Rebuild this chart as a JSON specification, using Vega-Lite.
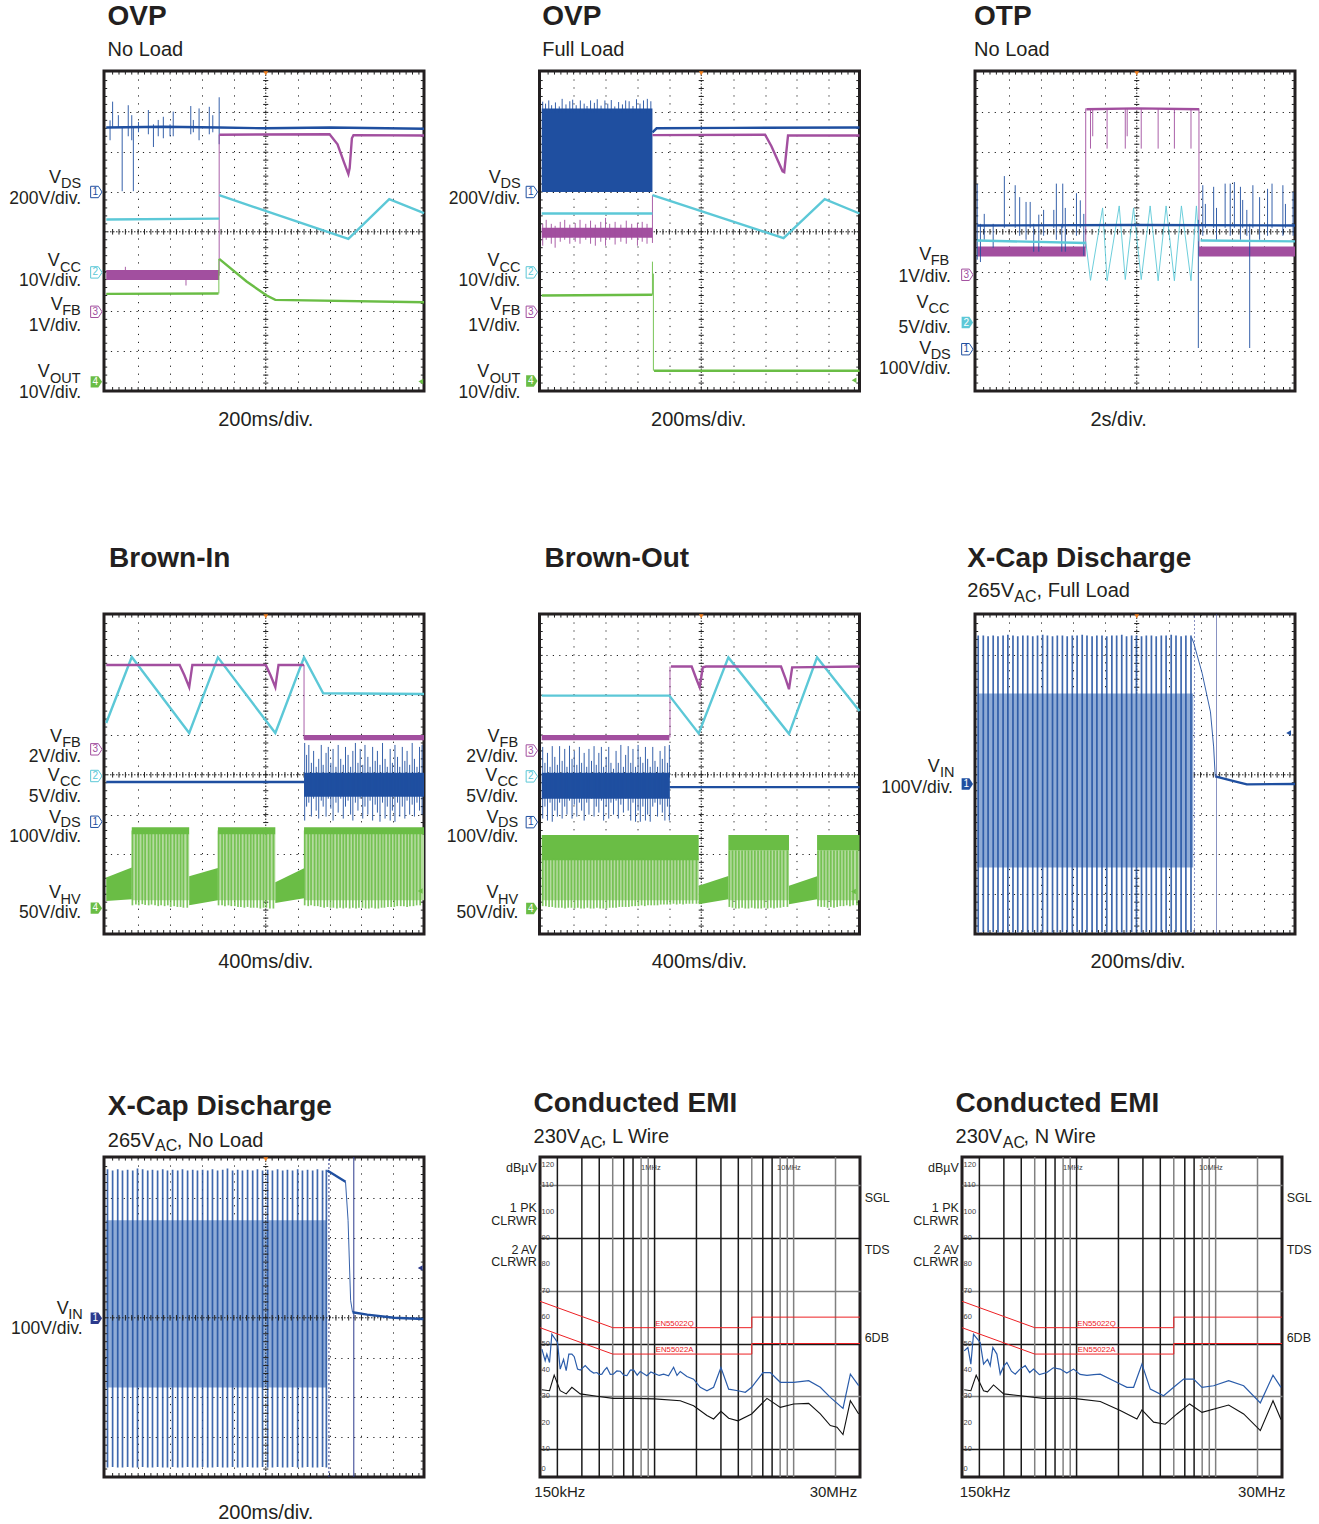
{"$schema":"https://vega.github.io/schema/vega-lite/v6.json","padding":{"left":7,"top":1,"right":0,"bottom":0},"background":"white",
"config":{"view":{"stroke":"#231f20","strokeWidth":3},"axis":{"domain":false,"ticks":false,"labels":false,"title":null,"grid":false},"header":{"labels":false,"title":null,"labelFontSize":0,"labelColor":"transparent","labelPadding":0,"titlePadding":0},"text":{"font":"Liberation Sans","color":"#231f20","baseline":"alphabetic"},"style":{"cell":{"stroke":"#231f20","strokeWidth":3}}},
"datasets":{
"tx":[{"g":0.2},{"g":0.4},{"g":0.6},{"g":0.8},{"g":1},{"g":1.2},{"g":1.4},{"g":1.6},{"g":1.8},{"g":2},{"g":2.2},{"g":2.4},{"g":2.6},{"g":2.8},{"g":3},{"g":3.2},{"g":3.4},{"g":3.6},{"g":3.8},{"g":4},{"g":4.2},{"g":4.4},{"g":4.6},{"g":4.8},{"g":5},{"g":5.2},{"g":5.4},{"g":5.6},{"g":5.8},{"g":6},{"g":6.2},{"g":6.4},{"g":6.6},{"g":6.8},{"g":7},{"g":7.2},{"g":7.4},{"g":7.6},{"g":7.8},{"g":8},{"g":8.2},{"g":8.4},{"g":8.6},{"g":8.8},{"g":9},{"g":9.2},{"g":9.4},{"g":9.6},{"g":9.8}],
"ty":[{"g":0.2},{"g":0.4},{"g":0.6},{"g":0.8},{"g":1},{"g":1.2},{"g":1.4},{"g":1.6},{"g":1.8},{"g":2},{"g":2.2},{"g":2.4},{"g":2.6},{"g":2.8},{"g":3},{"g":3.2},{"g":3.4},{"g":3.6},{"g":3.8},{"g":4},{"g":4.2},{"g":4.4},{"g":4.6},{"g":4.8},{"g":5},{"g":5.2},{"g":5.4},{"g":5.6},{"g":5.8},{"g":6},{"g":6.2},{"g":6.4},{"g":6.6},{"g":6.8},{"g":7},{"g":7.2},{"g":7.4},{"g":7.6},{"g":7.8}],
"one":[{"n":1}],
"fgrid":[{"f":0.2},{"f":0.3},{"f":0.4},{"f":0.5},{"f":0.6},{"f":0.7},{"f":0.8},{"f":0.9},{"f":1},{"f":2},{"f":3},{"f":4},{"f":5},{"f":6},{"f":7},{"f":8},{"f":9},{"f":10},{"f":20}],
"dbl":[{"lab":"120","db":117.5},{"lab":"110","db":110},{"lab":"100","db":100},{"lab":"90","db":90},{"lab":"80","db":80},{"lab":"70","db":70},{"lab":"60","db":60},{"lab":"50","db":50},{"lab":"40","db":40},{"lab":"30","db":30},{"lab":"20","db":20},{"lab":"10","db":10},{"lab":"0","db":2.5}]
},
"spacing":1086,"bounds":"flush",
"vconcat":[
{"bounds":"flush","columns":3,"spacing":{"row":223,"column":115.5},
"facet":{"field":"p","type":"nominal","header":{"labels":false,"title":null,"labelFontSize":0,"labelColor":"transparent","labelPadding":0}},
"data":{"values":[
{"p":1,"r":"title","t":0.04,"v":9.19,"txt":"OVP"},{"p":1,"r":"sub","t":0.04,"v":8.41,"txt":"No Load"},{"p":1,"r":"time","t":5,"v":-0.88,"txt":"200ms/div."},
{"p":1,"r":"V","t":-1.79,"v":5.22,"txt":"V"},{"p":1,"r":"vs","t":-1.42,"v":5.09,"txt":"DS"},{"p":1,"r":"scale","t":-0.79,"v":4.7,"txt":"200V/div."},
{"p":1,"r":"V","t":-1.83,"v":3.15,"txt":"V"},{"p":1,"r":"vs","t":-1.45,"v":3.0,"txt":"CC"},{"p":1,"r":"scale","t":-0.79,"v":2.63,"txt":"10V/div."},
{"p":1,"r":"V","t":-1.74,"v":2.04,"txt":"V"},{"p":1,"r":"vs","t":-1.38,"v":1.91,"txt":"FB"},{"p":1,"r":"scale","t":-0.79,"v":1.51,"txt":"1V/div."},
{"p":1,"r":"V","t":-2.15,"v":0.34,"txt":"V"},{"p":1,"r":"vs","t":-1.76,"v":0.21,"txt":"OUT"},{"p":1,"r":"scale","t":-0.79,"v":-0.17,"txt":"10V/div."},
{"p":1,"r":"flag","ch":1,"t":-0.31,"v":5.0,"txt":"1"},{"p":1,"r":"flag","ch":2,"t":-0.31,"v":2.98,"txt":"2"},{"p":1,"r":"flag","ch":3,"t":-0.31,"v":1.99,"txt":"3"},{"p":1,"r":"flags","ch":4,"t":-0.31,"v":0.23,"txt":"4"},{"p":1,"r":"arrow","ch":4,"t":9.86,"v":0.24},
{"p":1,"ch":3,"t":0,"t2":3.54,"v":2.79,"v2":3.04},
{"p":1,"ch":1,"t":0.2,"v":6.62,"v2":7.27},{"p":1,"ch":1,"t":0.38,"v":6.62,"v2":6.93},{"p":1,"ch":1,"t":0.5,"v":5.02,"v2":6.62},{"p":1,"ch":1,"t":0.69,"v":6.4,"v2":7.18},{"p":1,"ch":1,"t":0.8,"v":6.3,"v2":6.93},{"p":1,"ch":1,"t":0.85,"v":5.02,"v2":6.62},{"p":1,"ch":1,"t":1.01,"v":6.5,"v2":6.76},{"p":1,"ch":1,"t":1.32,"v":6.45,"v2":7.06},{"p":1,"ch":1,"t":1.48,"v":6.13,"v2":6.7},{"p":1,"ch":1,"t":1.63,"v":6.4,"v2":6.81},{"p":1,"ch":1,"t":1.79,"v":6.35,"v2":6.89},{"p":1,"ch":1,"t":2.1,"v":6.4,"v2":7.02},{"p":1,"ch":1,"t":2.65,"v":6.45,"v2":7.16},{"p":1,"ch":1,"t":2.73,"v":6.5,"v2":6.81},{"p":1,"ch":1,"t":2.91,"v":6.3,"v2":7.1},{"p":1,"ch":1,"t":3.23,"v":6.45,"v2":7.14},{"p":1,"ch":1,"t":3.34,"v":6.5,"v2":6.93},{"p":1,"ch":1,"t":3.54,"v":6.2,"v2":7.38},{"p":1,"ch":1,"t":0.12,"v":6.3,"v2":6.8},{"p":1,"ch":1,"t":2.0,"v":6.4,"v2":6.7},{"p":1,"ch":3,"t":3.54,"v":2.9,"v2":6.44},{"p":1,"ch":4,"t":3.53,"v":2.45,"v2":3.32},{"p":1,"ch":3,"t":2.5,"v":2.65,"v2":2.8},{"p":1,"ch":3,"t":0.6,"v":3.04,"v2":3.12},
{"p":1,"ch":1,"g":"a","t":0,"v":6.62},{"p":1,"ch":1,"g":"a","t":1.8,"v":6.64},{"p":1,"ch":1,"g":"a","t":3.54,"v":6.62},{"p":1,"ch":1,"g":"a","t":5,"v":6.6},{"p":1,"ch":1,"g":"a","t":7,"v":6.62},{"p":1,"ch":1,"g":"a","t":9.96,"v":6.59},
{"p":1,"ch":3,"g":"a","t":3.54,"v":6.44},{"p":1,"ch":3,"g":"a","t":7,"v":6.45},{"p":1,"ch":3,"g":"a","t":7.25,"v":6.2},{"p":1,"ch":3,"g":"a","t":7.45,"v":5.75},{"p":1,"ch":3,"g":"a","t":7.59,"v":5.45},{"p":1,"ch":3,"g":"a","t":7.63,"v":5.6},{"p":1,"ch":3,"g":"a","t":7.7,"v":6.35},{"p":1,"ch":3,"g":"a","t":7.75,"v":6.43},{"p":1,"ch":3,"g":"a","t":9.96,"v":6.42},
{"p":1,"ch":2,"g":"a","t":0,"v":4.31},{"p":1,"ch":2,"g":"a","t":3.54,"v":4.33},{"p":1,"ch":2,"g":"b","t":3.54,"v":4.92},{"p":1,"ch":2,"g":"b","t":7.59,"v":3.82},{"p":1,"ch":2,"g":"b","t":8.87,"v":4.82},{"p":1,"ch":2,"g":"b","t":9.96,"v":4.47},
{"p":1,"ch":4,"g":"a","t":0,"v":2.44},{"p":1,"ch":4,"g":"a","t":3.52,"v":2.45},{"p":1,"ch":4,"g":"b","t":3.54,"v":3.32},{"p":1,"ch":4,"g":"b","t":4.4,"v":2.75},{"p":1,"ch":4,"g":"b","t":5.03,"v":2.4},{"p":1,"ch":4,"g":"b","t":5.3,"v":2.29},{"p":1,"ch":4,"g":"b","t":9.96,"v":2.23},

{"p":2,"r":"title","t":0.015,"v":9.19,"txt":"OVP"},{"p":2,"r":"sub","t":0.015,"v":8.41,"txt":"Full Load"},{"p":2,"r":"time","t":4.92,"v":-0.88,"txt":"200ms/div."},
{"p":2,"r":"V","t":-1.66,"v":5.22,"txt":"V"},{"p":2,"r":"vs","t":-1.29,"v":5.09,"txt":"DS"},{"p":2,"r":"scale","t":-0.67,"v":4.7,"txt":"200V/div."},
{"p":2,"r":"V","t":-1.7,"v":3.15,"txt":"V"},{"p":2,"r":"vs","t":-1.32,"v":3.0,"txt":"CC"},{"p":2,"r":"scale","t":-0.67,"v":2.63,"txt":"10V/div."},
{"p":2,"r":"V","t":-1.61,"v":2.04,"txt":"V"},{"p":2,"r":"vs","t":-1.25,"v":1.91,"txt":"FB"},{"p":2,"r":"scale","t":-0.67,"v":1.51,"txt":"1V/div."},
{"p":2,"r":"V","t":-2.02,"v":0.34,"txt":"V"},{"p":2,"r":"vs","t":-1.63,"v":0.21,"txt":"OUT"},{"p":2,"r":"scale","t":-0.67,"v":-0.17,"txt":"10V/div."},
{"p":2,"r":"flag","ch":1,"t":-0.31,"v":5.0,"txt":"1"},{"p":2,"r":"flag","ch":2,"t":-0.31,"v":2.98,"txt":"2"},{"p":2,"r":"flag","ch":3,"t":-0.31,"v":1.99,"txt":"3"},{"p":2,"r":"flags","ch":4,"t":-0.31,"v":0.25,"txt":"4"},{"p":2,"r":"arrow","ch":4,"t":9.79,"v":0.27},
{"p":2,"ch":1,"t":0,"t2":3.47,"v":5.0,"v2":7.1},{"p":2,"ch":3,"t":0,"t2":3.47,"v":3.85,"v2":4.1},
{"p":2,"ch":1,"t":0.03,"v":7.0,"v2":7.27},{"p":2,"ch":1,"t":0.12,"v":7.0,"v2":7.22},{"p":2,"ch":1,"t":0.22,"v":7.0,"v2":7.3},{"p":2,"ch":1,"t":0.31,"v":7.0,"v2":7.18},{"p":2,"ch":1,"t":0.43,"v":7.0,"v2":7.25},{"p":2,"ch":1,"t":0.55,"v":7.0,"v2":7.15},{"p":2,"ch":1,"t":0.64,"v":7.0,"v2":7.34},{"p":2,"ch":1,"t":0.76,"v":7.0,"v2":7.2},{"p":2,"ch":1,"t":0.88,"v":7.0,"v2":7.28},{"p":2,"ch":1,"t":0.97,"v":7.0,"v2":7.32},{"p":2,"ch":1,"t":1.08,"v":7.0,"v2":7.18},{"p":2,"ch":1,"t":1.21,"v":7.0,"v2":7.3},{"p":2,"ch":1,"t":1.33,"v":7.0,"v2":7.22},{"p":2,"ch":1,"t":1.42,"v":7.0,"v2":7.16},{"p":2,"ch":1,"t":1.53,"v":7.0,"v2":7.3},{"p":2,"ch":1,"t":1.65,"v":7.0,"v2":7.24},{"p":2,"ch":1,"t":1.74,"v":7.0,"v2":7.33},{"p":2,"ch":1,"t":1.86,"v":7.0,"v2":7.17},{"p":2,"ch":1,"t":1.98,"v":7.0,"v2":7.3},{"p":2,"ch":1,"t":2.07,"v":7.0,"v2":7.22},{"p":2,"ch":1,"t":2.18,"v":7.0,"v2":7.31},{"p":2,"ch":1,"t":2.29,"v":7.0,"v2":7.15},{"p":2,"ch":1,"t":2.41,"v":7.0,"v2":7.26},{"p":2,"ch":1,"t":2.53,"v":7.0,"v2":7.2},{"p":2,"ch":1,"t":2.63,"v":7.0,"v2":7.3},{"p":2,"ch":1,"t":2.74,"v":7.0,"v2":7.28},{"p":2,"ch":1,"t":2.86,"v":7.0,"v2":7.16},{"p":2,"ch":1,"t":2.97,"v":7.0,"v2":7.33},{"p":2,"ch":1,"t":3.08,"v":7.0,"v2":7.22},{"p":2,"ch":1,"t":3.19,"v":7.0,"v2":7.3},{"p":2,"ch":1,"t":3.31,"v":7.0,"v2":7.34},{"p":2,"ch":1,"t":3.42,"v":7.0,"v2":7.28},
{"p":2,"ch":3,"t":0.03,"v":3.65,"v2":4.2},{"p":2,"ch":3,"t":0.14,"v":3.8,"v2":4.3},{"p":2,"ch":3,"t":0.3,"v":3.7,"v2":4.2},{"p":2,"ch":3,"t":0.42,"v":3.6,"v2":4.15},{"p":2,"ch":3,"t":0.58,"v":3.75,"v2":4.25},{"p":2,"ch":3,"t":0.72,"v":3.8,"v2":4.3},{"p":2,"ch":3,"t":0.88,"v":3.7,"v2":4.18},{"p":2,"ch":3,"t":1.05,"v":3.75,"v2":4.22},{"p":2,"ch":3,"t":1.2,"v":3.7,"v2":4.3},{"p":2,"ch":3,"t":1.38,"v":3.8,"v2":4.2},{"p":2,"ch":3,"t":1.53,"v":3.7,"v2":4.28},{"p":2,"ch":3,"t":1.68,"v":3.65,"v2":4.18},{"p":2,"ch":3,"t":1.85,"v":3.75,"v2":4.25},{"p":2,"ch":3,"t":2.0,"v":3.65,"v2":4.35},{"p":2,"ch":3,"t":2.13,"v":3.8,"v2":4.2},{"p":2,"ch":3,"t":2.3,"v":3.68,"v2":4.25},{"p":2,"ch":3,"t":2.48,"v":3.75,"v2":4.18},{"p":2,"ch":3,"t":2.65,"v":3.7,"v2":4.28},{"p":2,"ch":3,"t":2.82,"v":3.8,"v2":4.2},{"p":2,"ch":3,"t":3.0,"v":3.65,"v2":4.22},{"p":2,"ch":3,"t":3.15,"v":3.75,"v2":4.25},{"p":2,"ch":3,"t":3.3,"v":3.7,"v2":4.2},{"p":2,"ch":3,"t":3.47,"v":3.72,"v2":4.92},
{"p":2,"ch":4,"t":3.47,"v":2.42,"v2":3.25},{"p":2,"ch":4,"t":3.5,"v":0.51,"v2":2.95},
{"p":2,"ch":1,"g":"a","t":3.47,"v":6.5},{"p":2,"ch":1,"g":"a","t":3.6,"v":6.6},{"p":2,"ch":1,"g":"a","t":6,"v":6.61},{"p":2,"ch":1,"g":"a","t":9.96,"v":6.62},
{"p":2,"ch":3,"g":"a","t":3.47,"v":6.43},{"p":2,"ch":3,"g":"a","t":7,"v":6.44},{"p":2,"ch":3,"g":"a","t":7.2,"v":6.15},{"p":2,"ch":3,"g":"a","t":7.55,"v":5.52},{"p":2,"ch":3,"g":"a","t":7.6,"v":5.5},{"p":2,"ch":3,"g":"a","t":7.72,"v":6.42},{"p":2,"ch":3,"g":"a","t":9.96,"v":6.42},
{"p":2,"ch":2,"g":"a","t":0,"v":4.46},{"p":2,"ch":2,"g":"a","t":3.47,"v":4.46},{"p":2,"ch":2,"g":"b","t":3.47,"v":4.92},{"p":2,"ch":2,"g":"b","t":7.58,"v":3.84},{"p":2,"ch":2,"g":"b","t":8.87,"v":4.82},{"p":2,"ch":2,"g":"b","t":9.96,"v":4.46},
{"p":2,"ch":4,"g":"a","t":0,"v":2.4},{"p":2,"ch":4,"g":"a","t":3.47,"v":2.42},{"p":2,"ch":4,"g":"b","t":3.52,"v":0.51},{"p":2,"ch":4,"g":"b","t":9.96,"v":0.51},

{"p":3,"r":"title","t":-0.1,"v":9.19,"txt":"OTP"},{"p":3,"r":"sub","t":-0.1,"v":8.41,"txt":"No Load"},{"p":3,"r":"time","t":4.43,"v":-0.88,"txt":"2s/div."},
{"p":3,"r":"V","t":-1.82,"v":3.29,"txt":"V"},{"p":3,"r":"vs","t":-1.46,"v":3.17,"txt":"FB"},{"p":3,"r":"scale","t":-0.83,"v":2.75,"txt":"1V/div."},
{"p":3,"r":"V","t":-1.9,"v":2.08,"txt":"V"},{"p":3,"r":"vs","t":-1.53,"v":1.96,"txt":"CC"},{"p":3,"r":"scale","t":-0.83,"v":1.45,"txt":"5V/div."},
{"p":3,"r":"V","t":-1.82,"v":0.92,"txt":"V"},{"p":3,"r":"vs","t":-1.46,"v":0.8,"txt":"DS"},{"p":3,"r":"scale","t":-0.83,"v":0.42,"txt":"100V/div."},
{"p":3,"r":"flag","ch":3,"t":-0.31,"v":2.92,"txt":"3"},{"p":3,"r":"flags","ch":2,"t":-0.31,"v":1.72,"txt":"2"},{"p":3,"r":"flag","ch":1,"t":-0.31,"v":1.05,"txt":"1"},
{"p":3,"ch":3,"t":0,"t2":3.4,"v":3.38,"v2":3.63},{"p":3,"ch":3,"t":6.95,"t2":9.96,"v":3.38,"v2":3.63},
{"p":3,"ch":3,"t":3.4,"v":3.6,"v2":7.1},{"p":3,"ch":3,"t":6.95,"v":3.4,"v2":7.1},{"p":3,"ch":3,"t":3.55,"v":6.09,"v2":7.1},{"p":3,"ch":3,"t":3.62,"v":6.4,"v2":7.1},{"p":3,"ch":3,"t":4.07,"v":6.09,"v2":7.1},{"p":3,"ch":3,"t":4.64,"v":6.09,"v2":7.1},{"p":3,"ch":3,"t":4.7,"v":6.4,"v2":7.1},{"p":3,"ch":3,"t":5.14,"v":6.09,"v2":7.1},{"p":3,"ch":3,"t":5.67,"v":6.09,"v2":7.1},{"p":3,"ch":3,"t":6.18,"v":6.09,"v2":7.1},{"p":3,"ch":3,"t":6.7,"v":6.09,"v2":7.1},
{"p":3,"ch":1,"t":0,"v":3.3,"v2":5.2},{"p":3,"ch":1,"t":0.1,"v":3.24,"v2":4.2},{"p":3,"ch":1,"t":0.22,"v":3.8,"v2":4.45},{"p":3,"ch":1,"t":0.5,"v":3.6,"v2":4.2},{"p":3,"ch":1,"t":0.85,"v":4.1,"v2":5.4},{"p":3,"ch":1,"t":1.19,"v":4.1,"v2":5.17},{"p":3,"ch":1,"t":1.33,"v":3.9,"v2":4.87},{"p":3,"ch":1,"t":1.53,"v":3.8,"v2":4.75},{"p":3,"ch":1,"t":1.66,"v":4.1,"v2":4.75},{"p":3,"ch":1,"t":1.77,"v":3.5,"v2":4.2},{"p":3,"ch":1,"t":1.93,"v":3.5,"v2":4.43},{"p":3,"ch":1,"t":2.08,"v":3.9,"v2":4.55},{"p":3,"ch":1,"t":2.4,"v":4.1,"v2":4.55},{"p":3,"ch":1,"t":2.48,"v":3.8,"v2":5.21},{"p":3,"ch":1,"t":2.65,"v":3.5,"v2":4.2},{"p":3,"ch":1,"t":2.68,"v":4.1,"v2":5.21},{"p":3,"ch":1,"t":2.76,"v":3.5,"v2":4.6},{"p":3,"ch":1,"t":3.11,"v":3.9,"v2":4.97},{"p":3,"ch":1,"t":3.23,"v":4.1,"v2":4.79},{"p":3,"ch":1,"t":3.34,"v":3.4,"v2":4.45},
{"p":3,"ch":1,"t":6.93,"v":1.08,"v2":4.3},{"p":3,"ch":1,"t":8.54,"v":1.08,"v2":4.2},{"p":3,"ch":1,"t":7.07,"v":3.9,"v2":5.17},{"p":3,"ch":1,"t":7.15,"v":4.1,"v2":4.7},{"p":3,"ch":1,"t":7.41,"v":4.1,"v2":5.13},{"p":3,"ch":1,"t":7.5,"v":3.8,"v2":4.6},{"p":3,"ch":1,"t":7.77,"v":4.1,"v2":5.21},{"p":3,"ch":1,"t":7.93,"v":3.9,"v2":5.21},{"p":3,"ch":1,"t":8.06,"v":4.1,"v2":5.25},{"p":3,"ch":1,"t":8.25,"v":3.8,"v2":5.13},{"p":3,"ch":1,"t":8.32,"v":4.1,"v2":4.8},{"p":3,"ch":1,"t":8.45,"v":3.9,"v2":4.55},{"p":3,"ch":1,"t":8.64,"v":4.1,"v2":5.17},{"p":3,"ch":1,"t":8.85,"v":3.8,"v2":4.87},{"p":3,"ch":1,"t":9.1,"v":3.9,"v2":5.08},{"p":3,"ch":1,"t":9.24,"v":4.1,"v2":5.21},{"p":3,"ch":1,"t":9.58,"v":3.9,"v2":5.17},{"p":3,"ch":1,"t":9.66,"v":4.1,"v2":4.7},{"p":3,"ch":1,"t":9.9,"v":3.9,"v2":5.0},
{"p":3,"ch":2,"g":"z","k":"t","t":3.4,"v":3.76},{"p":3,"ch":2,"g":"z","k":"t","t":3.55,"v":2.78},{"p":3,"ch":2,"g":"z","k":"t","t":3.93,"v":4.6},{"p":3,"ch":2,"g":"z","k":"t","t":4.07,"v":2.77},{"p":3,"ch":2,"g":"z","k":"t","t":4.45,"v":4.65},{"p":3,"ch":2,"g":"z","k":"t","t":4.64,"v":2.8},{"p":3,"ch":2,"g":"z","k":"t","t":4.9,"v":4.6},{"p":3,"ch":2,"g":"z","k":"t","t":5.14,"v":2.8},{"p":3,"ch":2,"g":"z","k":"t","t":5.42,"v":4.65},{"p":3,"ch":2,"g":"z","k":"t","t":5.67,"v":2.77},{"p":3,"ch":2,"g":"z","k":"t","t":5.92,"v":4.65},{"p":3,"ch":2,"g":"z","k":"t","t":6.18,"v":2.77},{"p":3,"ch":2,"g":"z","k":"t","t":6.4,"v":4.65},{"p":3,"ch":2,"g":"z","k":"t","t":6.7,"v":2.77},{"p":3,"ch":2,"g":"z","k":"t","t":6.87,"v":4.65},{"p":3,"ch":2,"g":"z","k":"t","t":6.95,"v":3.76},
{"p":3,"ch":3,"g":"a","t":3.42,"v":7.08},{"p":3,"ch":3,"g":"a","t":5,"v":7.1},{"p":3,"ch":3,"g":"a","t":6.95,"v":7.08},
{"p":3,"ch":1,"g":"a","t":0,"v":4.16},{"p":3,"ch":1,"g":"a","t":5,"v":4.17},{"p":3,"ch":1,"g":"a","t":9.96,"v":4.16},
{"p":3,"ch":2,"g":"a","t":0,"v":3.78},{"p":3,"ch":2,"g":"a","t":3.4,"v":3.72},{"p":3,"ch":2,"g":"b","t":7,"v":3.78},{"p":3,"ch":2,"g":"b","t":9.96,"v":3.76},

{"p":4,"r":"title","t":0.09,"v":9.23,"txt":"Brown-In"},{"p":4,"r":"time","t":5,"v":-0.85,"txt":"400ms/div."},
{"p":4,"r":"V","t":-1.76,"v":4.82,"txt":"V"},{"p":4,"r":"vs","t":-1.38,"v":4.69,"txt":"FB"},{"p":4,"r":"scale","t":-0.79,"v":4.31,"txt":"2V/div."},
{"p":4,"r":"V","t":-1.83,"v":3.84,"txt":"V"},{"p":4,"r":"vs","t":-1.45,"v":3.71,"txt":"CC"},{"p":4,"r":"scale","t":-0.79,"v":3.32,"txt":"5V/div."},
{"p":4,"r":"V","t":-1.79,"v":2.8,"txt":"V"},{"p":4,"r":"vs","t":-1.43,"v":2.68,"txt":"DS"},{"p":4,"r":"scale","t":-0.79,"v":2.3,"txt":"100V/div."},
{"p":4,"r":"V","t":-1.79,"v":0.9,"txt":"V"},{"p":4,"r":"vs","t":-1.43,"v":0.76,"txt":"HV"},{"p":4,"r":"scale","t":-0.79,"v":0.39,"txt":"50V/div."},
{"p":4,"r":"flag","ch":3,"t":-0.31,"v":4.64,"txt":"3"},{"p":4,"r":"flag","ch":2,"t":-0.31,"v":3.97,"txt":"2"},{"p":4,"r":"flag","ch":1,"t":-0.31,"v":2.82,"txt":"1"},{"p":4,"r":"flags","ch":4,"t":-0.31,"v":0.65,"txt":"4"},{"p":4,"r":"arrow","ch":4,"t":9.84,"v":1.08},
{"p":4,"ch":6,"t":0.8,"t2":2.6,"v":0.85,"v2":2.5},{"p":4,"ch":6,"t":3.5,"t2":5.3,"v":0.85,"v2":2.5},{"p":4,"ch":6,"t":6.2,"t2":9.96,"v":0.85,"v2":2.5},
{"p":4,"ch":4,"t":0.8,"t2":2.6,"v":2.5,"v2":2.68},{"p":4,"ch":4,"t":3.5,"t2":5.3,"v":2.5,"v2":2.68},{"p":4,"ch":4,"t":6.2,"t2":9.96,"v":2.5,"v2":2.68},{"p":4,"ch":1,"t":6.2,"t2":9.96,"v":3.45,"v2":4.05},{"p":4,"ch":3,"t":6.2,"t2":9.96,"v":4.87,"v2":5.0},
{"p":4,"ch":4,"g":"w1","ar":1,"t":0,"v":0.83,"v2":1.42},{"p":4,"ch":4,"g":"w1","ar":1,"t":0.8,"v":0.87,"v2":1.67},{"p":4,"ch":4,"g":"w2","ar":1,"t":2.6,"v":0.72,"v2":1.45},{"p":4,"ch":4,"g":"w2","ar":1,"t":3.5,"v":0.85,"v2":1.66},{"p":4,"ch":4,"g":"w3","ar":1,"t":5.3,"v":0.78,"v2":1.3},{"p":4,"ch":4,"g":"w3","ar":1,"t":6.2,"v":0.9,"v2":1.65},
{"p":4,"ch":4,"k":"t","t":0.82,"v":0.72,"v2":2.6},{"p":4,"ch":4,"k":"t","t":0.93,"v":0.74,"v2":2.6},{"p":4,"ch":4,"k":"t","t":1.02,"v":0.72,"v2":2.6},{"p":4,"ch":4,"k":"t","t":1.13,"v":0.75,"v2":2.6},{"p":4,"ch":4,"k":"t","t":1.22,"v":0.73,"v2":2.6},{"p":4,"ch":4,"k":"t","t":1.33,"v":0.72,"v2":2.6},{"p":4,"ch":4,"k":"t","t":1.42,"v":0.74,"v2":2.6},{"p":4,"ch":4,"k":"t","t":1.53,"v":0.72,"v2":2.6},{"p":4,"ch":4,"k":"t","t":1.63,"v":0.7,"v2":2.6},{"p":4,"ch":4,"k":"t","t":1.72,"v":0.72,"v2":2.6},{"p":4,"ch":4,"k":"t","t":1.83,"v":0.7,"v2":2.6},{"p":4,"ch":4,"k":"t","t":1.93,"v":0.72,"v2":2.6},{"p":4,"ch":4,"k":"t","t":2.02,"v":0.68,"v2":2.6},{"p":4,"ch":4,"k":"t","t":2.13,"v":0.7,"v2":2.6},{"p":4,"ch":4,"k":"t","t":2.23,"v":0.68,"v2":2.6},{"p":4,"ch":4,"k":"t","t":2.33,"v":0.68,"v2":2.6},{"p":4,"ch":4,"k":"t","t":2.42,"v":0.66,"v2":2.6},{"p":4,"ch":4,"k":"t","t":2.54,"v":0.66,"v2":2.6},
{"p":4,"ch":4,"k":"t","t":3.52,"v":0.72,"v2":2.6},{"p":4,"ch":4,"k":"t","t":3.63,"v":0.72,"v2":2.6},{"p":4,"ch":4,"k":"t","t":3.72,"v":0.7,"v2":2.6},{"p":4,"ch":4,"k":"t","t":3.83,"v":0.72,"v2":2.6},{"p":4,"ch":4,"k":"t","t":3.92,"v":0.7,"v2":2.6},{"p":4,"ch":4,"k":"t","t":4.03,"v":0.7,"v2":2.6},{"p":4,"ch":4,"k":"t","t":4.13,"v":0.68,"v2":2.6},{"p":4,"ch":4,"k":"t","t":4.22,"v":0.68,"v2":2.6},{"p":4,"ch":4,"k":"t","t":4.33,"v":0.66,"v2":2.6},{"p":4,"ch":4,"k":"t","t":4.43,"v":0.68,"v2":2.6},{"p":4,"ch":4,"k":"t","t":4.53,"v":0.66,"v2":2.6},{"p":4,"ch":4,"k":"t","t":4.62,"v":0.66,"v2":2.6},{"p":4,"ch":4,"k":"t","t":4.73,"v":0.66,"v2":2.6},{"p":4,"ch":4,"k":"t","t":4.83,"v":0.64,"v2":2.6},{"p":4,"ch":4,"k":"t","t":4.93,"v":0.66,"v2":2.6},{"p":4,"ch":4,"k":"t","t":5.02,"v":0.66,"v2":2.6},{"p":4,"ch":4,"k":"t","t":5.13,"v":0.64,"v2":2.6},{"p":4,"ch":4,"k":"t","t":5.24,"v":0.64,"v2":2.6},
{"p":4,"ch":4,"k":"t","t":6.22,"v":0.72,"v2":2.6},{"p":4,"ch":4,"k":"t","t":6.33,"v":0.7,"v2":2.6},{"p":4,"ch":4,"k":"t","t":6.42,"v":0.72,"v2":2.6},{"p":4,"ch":4,"k":"t","t":6.53,"v":0.7,"v2":2.6},{"p":4,"ch":4,"k":"t","t":6.63,"v":0.7,"v2":2.6},{"p":4,"ch":4,"k":"t","t":6.72,"v":0.68,"v2":2.6},{"p":4,"ch":4,"k":"t","t":6.83,"v":0.66,"v2":2.6},{"p":4,"ch":4,"k":"t","t":6.93,"v":0.68,"v2":2.6},{"p":4,"ch":4,"k":"t","t":7.03,"v":0.66,"v2":2.6},{"p":4,"ch":4,"k":"t","t":7.12,"v":0.66,"v2":2.6},{"p":4,"ch":4,"k":"t","t":7.23,"v":0.64,"v2":2.6},{"p":4,"ch":4,"k":"t","t":7.33,"v":0.66,"v2":2.6},{"p":4,"ch":4,"k":"t","t":7.43,"v":0.64,"v2":2.6},{"p":4,"ch":4,"k":"t","t":7.52,"v":0.66,"v2":2.6},{"p":4,"ch":4,"k":"t","t":7.63,"v":0.64,"v2":2.6},{"p":4,"ch":4,"k":"t","t":7.73,"v":0.66,"v2":2.6},{"p":4,"ch":4,"k":"t","t":7.83,"v":0.64,"v2":2.6},{"p":4,"ch":4,"k":"t","t":7.92,"v":0.66,"v2":2.6},{"p":4,"ch":4,"k":"t","t":8.03,"v":0.66,"v2":2.6},{"p":4,"ch":4,"k":"t","t":8.13,"v":0.64,"v2":2.6},{"p":4,"ch":4,"k":"t","t":8.23,"v":0.64,"v2":2.6},{"p":4,"ch":4,"k":"t","t":8.32,"v":0.66,"v2":2.6},{"p":4,"ch":4,"k":"t","t":8.43,"v":0.64,"v2":2.6},{"p":4,"ch":4,"k":"t","t":8.53,"v":0.64,"v2":2.6},{"p":4,"ch":4,"k":"t","t":8.63,"v":0.66,"v2":2.6},{"p":4,"ch":4,"k":"t","t":8.72,"v":0.66,"v2":2.6},{"p":4,"ch":4,"k":"t","t":8.83,"v":0.68,"v2":2.6},{"p":4,"ch":4,"k":"t","t":8.93,"v":0.68,"v2":2.6},{"p":4,"ch":4,"k":"t","t":9.03,"v":0.68,"v2":2.6},{"p":4,"ch":4,"k":"t","t":9.12,"v":0.7,"v2":2.6},{"p":4,"ch":4,"k":"t","t":9.23,"v":0.7,"v2":2.6},{"p":4,"ch":4,"k":"t","t":9.33,"v":0.7,"v2":2.6},{"p":4,"ch":4,"k":"t","t":9.43,"v":0.68,"v2":2.6},{"p":4,"ch":4,"k":"t","t":9.52,"v":0.7,"v2":2.6},{"p":4,"ch":4,"k":"t","t":9.63,"v":0.7,"v2":2.6},{"p":4,"ch":4,"k":"t","t":9.73,"v":0.72,"v2":2.6},{"p":4,"ch":4,"k":"t","t":9.84,"v":0.72,"v2":2.6},
{"p":4,"ch":3,"t":6.2,"v":4.9,"v2":6.76},
{"p":4,"ch":1,"t":6.22,"v":2.85,"v2":4.8},{"p":4,"ch":1,"t":6.28,"v":3.2,"v2":4.5},{"p":4,"ch":1,"t":6.35,"v":3.3,"v2":4.75},{"p":4,"ch":1,"t":6.43,"v":2.95,"v2":4.3},{"p":4,"ch":1,"t":6.5,"v":3.4,"v2":4.6},{"p":4,"ch":1,"t":6.58,"v":3.1,"v2":4.2},{"p":4,"ch":1,"t":6.66,"v":2.9,"v2":4.4},{"p":4,"ch":1,"t":6.74,"v":3.35,"v2":4.75},{"p":4,"ch":1,"t":6.8,"v":3.2,"v2":4.25},{"p":4,"ch":1,"t":6.89,"v":2.95,"v2":4.55},{"p":4,"ch":1,"t":6.96,"v":3.4,"v2":4.7},{"p":4,"ch":1,"t":7.04,"v":3.15,"v2":4.3},{"p":4,"ch":1,"t":7.11,"v":2.85,"v2":4.65},{"p":4,"ch":1,"t":7.2,"v":3.3,"v2":4.2},{"p":4,"ch":1,"t":7.27,"v":3.05,"v2":4.75},{"p":4,"ch":1,"t":7.35,"v":3.4,"v2":4.4},{"p":4,"ch":1,"t":7.43,"v":2.9,"v2":4.25},{"p":4,"ch":1,"t":7.5,"v":3.2,"v2":4.7},{"p":4,"ch":1,"t":7.58,"v":3.35,"v2":4.5},{"p":4,"ch":1,"t":7.66,"v":3.0,"v2":4.2},{"p":4,"ch":1,"t":7.73,"v":2.85,"v2":4.6},{"p":4,"ch":1,"t":7.81,"v":3.3,"v2":4.8},{"p":4,"ch":1,"t":7.89,"v":3.1,"v2":4.3},{"p":4,"ch":1,"t":7.96,"v":3.4,"v2":4.65},{"p":4,"ch":1,"t":8.04,"v":2.9,"v2":4.25},{"p":4,"ch":1,"t":8.11,"v":3.2,"v2":4.75},{"p":4,"ch":1,"t":8.2,"v":3.0,"v2":4.45},{"p":4,"ch":1,"t":8.27,"v":3.35,"v2":4.2},{"p":4,"ch":1,"t":8.35,"v":2.85,"v2":4.7},{"p":4,"ch":1,"t":8.43,"v":3.25,"v2":4.35},{"p":4,"ch":1,"t":8.5,"v":3.05,"v2":4.6},{"p":4,"ch":1,"t":8.58,"v":2.82,"v2":4.25},{"p":4,"ch":1,"t":8.66,"v":3.3,"v2":4.8},{"p":4,"ch":1,"t":8.74,"v":2.9,"v2":4.4},{"p":4,"ch":1,"t":8.81,"v":3.2,"v2":4.2},{"p":4,"ch":1,"t":8.9,"v":2.85,"v2":4.65},{"p":4,"ch":1,"t":8.97,"v":3.1,"v2":4.3},{"p":4,"ch":1,"t":9.05,"v":2.82,"v2":4.75},{"p":4,"ch":1,"t":9.13,"v":3.3,"v2":4.45},{"p":4,"ch":1,"t":9.2,"v":2.95,"v2":4.2},{"p":4,"ch":1,"t":9.28,"v":3.2,"v2":4.7},{"p":4,"ch":1,"t":9.36,"v":2.9,"v2":4.35},{"p":4,"ch":1,"t":9.43,"v":3.35,"v2":4.6},{"p":4,"ch":1,"t":9.51,"v":3.0,"v2":4.25},{"p":4,"ch":1,"t":9.59,"v":3.25,"v2":4.8},{"p":4,"ch":1,"t":9.66,"v":2.95,"v2":4.4},{"p":4,"ch":1,"t":9.74,"v":3.3,"v2":4.2},{"p":4,"ch":1,"t":9.82,"v":3.1,"v2":4.7},{"p":4,"ch":1,"t":9.9,"v":3.0,"v2":4.75},
{"p":4,"ch":2,"g":"a","t":0,"v":5.3},{"p":4,"ch":2,"g":"a","t":0.8,"v":6.96},{"p":4,"ch":2,"g":"a","t":2.6,"v":5.05},{"p":4,"ch":2,"g":"a","t":3.5,"v":6.95},{"p":4,"ch":2,"g":"a","t":5.3,"v":5.05},{"p":4,"ch":2,"g":"a","t":6.2,"v":6.95},{"p":4,"ch":2,"g":"a","t":6.8,"v":6.05},{"p":4,"ch":2,"g":"a","t":9.96,"v":6.03},
{"p":4,"ch":3,"g":"a","t":0,"v":6.76},{"p":4,"ch":3,"g":"a","t":2.3,"v":6.76},{"p":4,"ch":3,"g":"a","t":2.45,"v":6.5},{"p":4,"ch":3,"g":"a","t":2.6,"v":6.2},{"p":4,"ch":3,"g":"a","t":2.7,"v":6.76},{"p":4,"ch":3,"g":"a","t":5.0,"v":6.76},{"p":4,"ch":3,"g":"a","t":5.15,"v":6.5},{"p":4,"ch":3,"g":"a","t":5.3,"v":6.2},{"p":4,"ch":3,"g":"a","t":5.4,"v":6.76},{"p":4,"ch":3,"g":"a","t":6.2,"v":6.76},
{"p":4,"ch":1,"g":"a","t":0,"v":3.82},{"p":4,"ch":1,"g":"a","t":6.2,"v":3.82},

{"p":5,"r":"title","t":0.087,"v":9.23,"txt":"Brown-Out"},{"p":5,"r":"time","t":4.94,"v":-0.85,"txt":"400ms/div."},
{"p":5,"r":"V","t":-1.7,"v":4.82,"txt":"V"},{"p":5,"r":"vs","t":-1.32,"v":4.69,"txt":"FB"},{"p":5,"r":"scale","t":-0.73,"v":4.31,"txt":"2V/div."},
{"p":5,"r":"V","t":-1.77,"v":3.84,"txt":"V"},{"p":5,"r":"vs","t":-1.39,"v":3.71,"txt":"CC"},{"p":5,"r":"scale","t":-0.73,"v":3.32,"txt":"5V/div."},
{"p":5,"r":"V","t":-1.73,"v":2.8,"txt":"V"},{"p":5,"r":"vs","t":-1.37,"v":2.68,"txt":"DS"},{"p":5,"r":"scale","t":-0.73,"v":2.3,"txt":"100V/div."},
{"p":5,"r":"V","t":-1.73,"v":0.9,"txt":"V"},{"p":5,"r":"vs","t":-1.37,"v":0.76,"txt":"HV"},{"p":5,"r":"scale","t":-0.73,"v":0.39,"txt":"50V/div."},
{"p":5,"r":"flag","ch":3,"t":-0.31,"v":4.61,"txt":"3"},{"p":5,"r":"flag","ch":2,"t":-0.31,"v":3.96,"txt":"2"},{"p":5,"r":"flag","ch":1,"t":-0.31,"v":2.81,"txt":"1"},{"p":5,"r":"flags","ch":4,"t":-0.31,"v":0.64,"txt":"4"},{"p":5,"r":"arrow","ch":4,"t":9.77,"v":1.07},
{"p":5,"ch":6,"t":0,"t2":4.92,"v":0.85,"v2":1.9},{"p":5,"ch":6,"t":5.85,"t2":7.75,"v":0.85,"v2":2.1},{"p":5,"ch":6,"t":8.63,"t2":9.96,"v":0.85,"v2":2.1},
{"p":5,"ch":4,"t":0,"t2":4.92,"v":1.85,"v2":2.49},{"p":5,"ch":4,"t":5.85,"t2":7.75,"v":2.1,"v2":2.49},{"p":5,"ch":4,"t":8.63,"t2":9.96,"v":2.1,"v2":2.49},{"p":5,"ch":1,"t":0,"t2":4.0,"v":3.4,"v2":4.05},{"p":5,"ch":3,"t":0,"t2":4.0,"v":4.87,"v2":5.0},
{"p":5,"ch":4,"g":"w1","ar":1,"t":4.92,"v":0.75,"v2":1.21},{"p":5,"ch":4,"g":"w1","ar":1,"t":5.85,"v":0.87,"v2":1.46},{"p":5,"ch":4,"g":"w2","ar":1,"t":7.75,"v":0.75,"v2":1.21},{"p":5,"ch":4,"g":"w2","ar":1,"t":8.63,"v":0.87,"v2":1.45},
{"p":5,"ch":4,"k":"t","t":0.03,"v":0.7,"v2":1.9},{"p":5,"ch":4,"k":"t","t":0.13,"v":0.7,"v2":1.9},{"p":5,"ch":4,"k":"t","t":0.23,"v":0.68,"v2":1.9},{"p":5,"ch":4,"k":"t","t":0.33,"v":0.68,"v2":1.9},{"p":5,"ch":4,"k":"t","t":0.43,"v":0.66,"v2":1.9},{"p":5,"ch":4,"k":"t","t":0.53,"v":0.66,"v2":1.9},{"p":5,"ch":4,"k":"t","t":0.63,"v":0.66,"v2":1.9},{"p":5,"ch":4,"k":"t","t":0.73,"v":0.64,"v2":1.9},{"p":5,"ch":4,"k":"t","t":0.83,"v":0.66,"v2":1.9},{"p":5,"ch":4,"k":"t","t":0.93,"v":0.66,"v2":1.9},{"p":5,"ch":4,"k":"t","t":1.03,"v":0.64,"v2":1.9},{"p":5,"ch":4,"k":"t","t":1.13,"v":0.66,"v2":1.9},{"p":5,"ch":4,"k":"t","t":1.23,"v":0.64,"v2":1.9},{"p":5,"ch":4,"k":"t","t":1.33,"v":0.64,"v2":1.9},{"p":5,"ch":4,"k":"t","t":1.43,"v":0.66,"v2":1.9},{"p":5,"ch":4,"k":"t","t":1.53,"v":0.64,"v2":1.9},{"p":5,"ch":4,"k":"t","t":1.63,"v":0.64,"v2":1.9},{"p":5,"ch":4,"k":"t","t":1.73,"v":0.66,"v2":1.9},{"p":5,"ch":4,"k":"t","t":1.83,"v":0.64,"v2":1.9},{"p":5,"ch":4,"k":"t","t":1.93,"v":0.64,"v2":1.9},{"p":5,"ch":4,"k":"t","t":2.03,"v":0.64,"v2":1.9},{"p":5,"ch":4,"k":"t","t":2.13,"v":0.66,"v2":1.9},{"p":5,"ch":4,"k":"t","t":2.23,"v":0.66,"v2":1.9},{"p":5,"ch":4,"k":"t","t":2.33,"v":0.66,"v2":1.9},{"p":5,"ch":4,"k":"t","t":2.43,"v":0.68,"v2":1.9},{"p":5,"ch":4,"k":"t","t":2.53,"v":0.68,"v2":1.9},{"p":5,"ch":4,"k":"t","t":2.63,"v":0.68,"v2":1.9},{"p":5,"ch":4,"k":"t","t":2.73,"v":0.68,"v2":1.9},{"p":5,"ch":4,"k":"t","t":2.83,"v":0.7,"v2":1.9},{"p":5,"ch":4,"k":"t","t":2.93,"v":0.7,"v2":1.9},{"p":5,"ch":4,"k":"t","t":3.03,"v":0.7,"v2":1.9},{"p":5,"ch":4,"k":"t","t":3.13,"v":0.72,"v2":1.9},{"p":5,"ch":4,"k":"t","t":3.23,"v":0.7,"v2":1.9},{"p":5,"ch":4,"k":"t","t":3.33,"v":0.72,"v2":1.9},{"p":5,"ch":4,"k":"t","t":3.43,"v":0.72,"v2":1.9},{"p":5,"ch":4,"k":"t","t":3.53,"v":0.72,"v2":1.9},{"p":5,"ch":4,"k":"t","t":3.63,"v":0.72,"v2":1.9},{"p":5,"ch":4,"k":"t","t":3.73,"v":0.74,"v2":1.9},{"p":5,"ch":4,"k":"t","t":3.83,"v":0.74,"v2":1.9},{"p":5,"ch":4,"k":"t","t":3.93,"v":0.74,"v2":1.9},{"p":5,"ch":4,"k":"t","t":4.03,"v":0.74,"v2":1.9},{"p":5,"ch":4,"k":"t","t":4.13,"v":0.76,"v2":1.9},{"p":5,"ch":4,"k":"t","t":4.23,"v":0.74,"v2":1.9},{"p":5,"ch":4,"k":"t","t":4.33,"v":0.76,"v2":1.9},{"p":5,"ch":4,"k":"t","t":4.43,"v":0.74,"v2":1.9},{"p":5,"ch":4,"k":"t","t":4.53,"v":0.76,"v2":1.9},{"p":5,"ch":4,"k":"t","t":4.63,"v":0.76,"v2":1.9},{"p":5,"ch":4,"k":"t","t":4.73,"v":0.76,"v2":1.9},{"p":5,"ch":4,"k":"t","t":4.85,"v":0.76,"v2":1.9},
{"p":5,"ch":4,"k":"t","t":5.88,"v":0.68,"v2":2.1},{"p":5,"ch":4,"k":"t","t":5.98,"v":0.66,"v2":2.1},{"p":5,"ch":4,"k":"t","t":6.08,"v":0.64,"v2":2.1},{"p":5,"ch":4,"k":"t","t":6.18,"v":0.64,"v2":2.1},{"p":5,"ch":4,"k":"t","t":6.28,"v":0.66,"v2":2.1},{"p":5,"ch":4,"k":"t","t":6.38,"v":0.64,"v2":2.1},{"p":5,"ch":4,"k":"t","t":6.48,"v":0.64,"v2":2.1},{"p":5,"ch":4,"k":"t","t":6.58,"v":0.66,"v2":2.1},{"p":5,"ch":4,"k":"t","t":6.68,"v":0.64,"v2":2.1},{"p":5,"ch":4,"k":"t","t":6.78,"v":0.64,"v2":2.1},{"p":5,"ch":4,"k":"t","t":6.88,"v":0.64,"v2":2.1},{"p":5,"ch":4,"k":"t","t":6.98,"v":0.66,"v2":2.1},{"p":5,"ch":4,"k":"t","t":7.08,"v":0.64,"v2":2.1},{"p":5,"ch":4,"k":"t","t":7.18,"v":0.66,"v2":2.1},{"p":5,"ch":4,"k":"t","t":7.28,"v":0.64,"v2":2.1},{"p":5,"ch":4,"k":"t","t":7.38,"v":0.66,"v2":2.1},{"p":5,"ch":4,"k":"t","t":7.48,"v":0.66,"v2":2.1},{"p":5,"ch":4,"k":"t","t":7.58,"v":0.68,"v2":2.1},{"p":5,"ch":4,"k":"t","t":7.7,"v":0.68,"v2":2.1},
{"p":5,"ch":4,"k":"t","t":8.66,"v":0.7,"v2":2.1},{"p":5,"ch":4,"k":"t","t":8.76,"v":0.68,"v2":2.1},{"p":5,"ch":4,"k":"t","t":8.86,"v":0.68,"v2":2.1},{"p":5,"ch":4,"k":"t","t":8.96,"v":0.66,"v2":2.1},{"p":5,"ch":4,"k":"t","t":9.06,"v":0.68,"v2":2.1},{"p":5,"ch":4,"k":"t","t":9.16,"v":0.66,"v2":2.1},{"p":5,"ch":4,"k":"t","t":9.26,"v":0.68,"v2":2.1},{"p":5,"ch":4,"k":"t","t":9.36,"v":0.7,"v2":2.1},{"p":5,"ch":4,"k":"t","t":9.46,"v":0.7,"v2":2.1},{"p":5,"ch":4,"k":"t","t":9.56,"v":0.72,"v2":2.1},{"p":5,"ch":4,"k":"t","t":9.66,"v":0.7,"v2":2.1},{"p":5,"ch":4,"k":"t","t":9.76,"v":0.72,"v2":2.1},{"p":5,"ch":4,"k":"t","t":9.88,"v":0.72,"v2":2.1},
{"p":5,"ch":3,"t":4.02,"v":4.94,"v2":6.72},
{"p":5,"ch":1,"t":0.03,"v":2.9,"v2":4.7},{"p":5,"ch":1,"t":0.1,"v":3.2,"v2":4.3},{"p":5,"ch":1,"t":0.18,"v":2.85,"v2":4.55},{"p":5,"ch":1,"t":0.26,"v":3.3,"v2":4.2},{"p":5,"ch":1,"t":0.33,"v":2.82,"v2":4.72},{"p":5,"ch":1,"t":0.41,"v":3.1,"v2":4.45},{"p":5,"ch":1,"t":0.49,"v":2.95,"v2":4.25},{"p":5,"ch":1,"t":0.56,"v":3.3,"v2":4.72},{"p":5,"ch":1,"t":0.64,"v":2.9,"v2":4.35},{"p":5,"ch":1,"t":0.72,"v":3.2,"v2":4.65},{"p":5,"ch":1,"t":0.79,"v":3.0,"v2":4.2},{"p":5,"ch":1,"t":0.87,"v":3.35,"v2":4.73},{"p":5,"ch":1,"t":0.95,"v":2.9,"v2":4.4},{"p":5,"ch":1,"t":1.02,"v":3.25,"v2":4.6},{"p":5,"ch":1,"t":1.1,"v":2.95,"v2":4.25},{"p":5,"ch":1,"t":1.18,"v":3.3,"v2":4.7},{"p":5,"ch":1,"t":1.25,"v":3.1,"v2":4.3},{"p":5,"ch":1,"t":1.33,"v":2.85,"v2":4.55},{"p":5,"ch":1,"t":1.41,"v":3.3,"v2":4.2},{"p":5,"ch":1,"t":1.48,"v":3.0,"v2":4.65},{"p":5,"ch":1,"t":1.56,"v":3.4,"v2":4.35},{"p":5,"ch":1,"t":1.64,"v":2.95,"v2":4.72},{"p":5,"ch":1,"t":1.71,"v":3.2,"v2":4.25},{"p":5,"ch":1,"t":1.79,"v":3.05,"v2":4.55},{"p":5,"ch":1,"t":1.87,"v":3.35,"v2":4.7},{"p":5,"ch":1,"t":1.94,"v":2.85,"v2":4.2},{"p":5,"ch":1,"t":2.02,"v":3.2,"v2":4.45},{"p":5,"ch":1,"t":2.1,"v":2.9,"v2":4.7},{"p":5,"ch":1,"t":2.17,"v":3.3,"v2":4.3},{"p":5,"ch":1,"t":2.25,"v":3.0,"v2":4.15},{"p":5,"ch":1,"t":2.33,"v":3.35,"v2":4.6},{"p":5,"ch":1,"t":2.4,"v":2.9,"v2":4.3},{"p":5,"ch":1,"t":2.48,"v":3.25,"v2":4.75},{"p":5,"ch":1,"t":2.56,"v":3.05,"v2":4.2},{"p":5,"ch":1,"t":2.63,"v":3.4,"v2":4.5},{"p":5,"ch":1,"t":2.71,"v":3.1,"v2":4.72},{"p":5,"ch":1,"t":2.79,"v":2.85,"v2":4.3},{"p":5,"ch":1,"t":2.86,"v":3.3,"v2":4.65},{"p":5,"ch":1,"t":2.94,"v":2.82,"v2":4.2},{"p":5,"ch":1,"t":3.02,"v":3.1,"v2":4.75},{"p":5,"ch":1,"t":3.09,"v":2.82,"v2":4.45},{"p":5,"ch":1,"t":3.17,"v":3.2,"v2":4.3},{"p":5,"ch":1,"t":3.25,"v":2.85,"v2":4.7},{"p":5,"ch":1,"t":3.32,"v":3.0,"v2":4.4},{"p":5,"ch":1,"t":3.4,"v":2.82,"v2":4.2},{"p":5,"ch":1,"t":3.48,"v":3.2,"v2":4.7},{"p":5,"ch":1,"t":3.55,"v":3.3,"v2":4.35},{"p":5,"ch":1,"t":3.63,"v":2.95,"v2":4.2},{"p":5,"ch":1,"t":3.71,"v":3.25,"v2":4.6},{"p":5,"ch":1,"t":3.78,"v":3.05,"v2":4.4},{"p":5,"ch":1,"t":3.86,"v":2.85,"v2":4.72},{"p":5,"ch":1,"t":3.94,"v":3.2,"v2":4.3},{"p":5,"ch":1,"t":4.0,"v":2.85,"v2":4.75},
{"p":5,"ch":2,"g":"a","t":0,"v":5.99},{"p":5,"ch":2,"g":"a","t":4.0,"v":5.99},{"p":5,"ch":2,"g":"a","t":4.92,"v":5.04},{"p":5,"ch":2,"g":"a","t":5.85,"v":6.95},{"p":5,"ch":2,"g":"a","t":7.75,"v":5.03},{"p":5,"ch":2,"g":"a","t":8.63,"v":6.95},{"p":5,"ch":2,"g":"a","t":9.96,"v":5.6},
{"p":5,"ch":3,"g":"a","t":4.05,"v":6.72},{"p":5,"ch":3,"g":"a","t":4.7,"v":6.72},{"p":5,"ch":3,"g":"a","t":4.85,"v":6.4},{"p":5,"ch":3,"g":"a","t":4.95,"v":6.2},{"p":5,"ch":3,"g":"a","t":5.05,"v":6.7},{"p":5,"ch":3,"g":"a","t":5.15,"v":6.72},{"p":5,"ch":3,"g":"a","t":7.5,"v":6.72},{"p":5,"ch":3,"g":"a","t":7.65,"v":6.4},{"p":5,"ch":3,"g":"a","t":7.75,"v":6.15},{"p":5,"ch":3,"g":"a","t":7.85,"v":6.7},{"p":5,"ch":3,"g":"a","t":9.96,"v":6.72},
{"p":5,"ch":1,"g":"a","t":4.0,"v":3.69},{"p":5,"ch":1,"g":"a","t":9.96,"v":3.69},

{"p":6,"r":"title","t":-0.31,"v":9.23,"txt":"X-Cap Discharge"},{"p":6,"r":"sub","t":-0.31,"v":8.46,"txt":"265V"},{"p":6,"r":"subs","t":1.16,"v":8.35,"txt":"AC"},{"p":6,"r":"sub","t":1.86,"v":8.46,"txt":", Full Load"},{"p":6,"r":"time","t":5.04,"v":-0.85,"txt":"200ms/div."},
{"p":6,"r":"V","t":-1.55,"v":4.06,"txt":"V"},{"p":6,"r":"vs","t":-1.17,"v":3.94,"txt":"IN"},{"p":6,"r":"scale","t":-0.76,"v":3.54,"txt":"100V/div."},
{"p":6,"r":"flags","ch":1,"t":-0.31,"v":3.77,"txt":"1"},{"p":6,"r":"arrow","ch":1,"t":9.76,"v":5.05},
{"p":6,"ch":5,"t":0,"t2":6.77,"v":1.67,"v2":6.04},
{"p":6,"r":"cursor","t":7.5},{"p":6,"r":"cursord","t":6.81},
{"p":6,"ch":1,"k":"t","t":0.03,"v":0.04,"v2":7.5},{"p":6,"ch":1,"k":"t","t":0.19,"v":0.05,"v2":7.5},{"p":6,"ch":1,"k":"t","t":0.34,"v":0.04,"v2":7.48},{"p":6,"ch":1,"k":"t","t":0.5,"v":0.05,"v2":7.5},{"p":6,"ch":1,"k":"t","t":0.65,"v":0.04,"v2":7.48},{"p":6,"ch":1,"k":"t","t":0.81,"v":0.04,"v2":7.5},{"p":6,"ch":1,"k":"t","t":0.96,"v":0.05,"v2":7.52},{"p":6,"ch":1,"k":"t","t":1.12,"v":0.04,"v2":7.5},{"p":6,"ch":1,"k":"t","t":1.27,"v":0.04,"v2":7.48},{"p":6,"ch":1,"k":"t","t":1.43,"v":0.05,"v2":7.5},{"p":6,"ch":1,"k":"t","t":1.58,"v":0.04,"v2":7.5},{"p":6,"ch":1,"k":"t","t":1.74,"v":0.05,"v2":7.48},{"p":6,"ch":1,"k":"t","t":1.89,"v":0.04,"v2":7.5},{"p":6,"ch":1,"k":"t","t":2.05,"v":0.04,"v2":7.52},{"p":6,"ch":1,"k":"t","t":2.2,"v":0.05,"v2":7.5},{"p":6,"ch":1,"k":"t","t":2.36,"v":0.04,"v2":7.48},{"p":6,"ch":1,"k":"t","t":2.51,"v":0.04,"v2":7.5},{"p":6,"ch":1,"k":"t","t":2.67,"v":0.05,"v2":7.5},{"p":6,"ch":1,"k":"t","t":2.82,"v":0.04,"v2":7.48},{"p":6,"ch":1,"k":"t","t":2.98,"v":0.04,"v2":7.5},{"p":6,"ch":1,"k":"t","t":3.13,"v":0.05,"v2":7.5},{"p":6,"ch":1,"k":"t","t":3.29,"v":0.04,"v2":7.52},{"p":6,"ch":1,"k":"t","t":3.44,"v":0.04,"v2":7.5},{"p":6,"ch":1,"k":"t","t":3.6,"v":0.05,"v2":7.48},{"p":6,"ch":1,"k":"t","t":3.75,"v":0.04,"v2":7.5},{"p":6,"ch":1,"k":"t","t":3.91,"v":0.05,"v2":7.5},{"p":6,"ch":1,"k":"t","t":4.06,"v":0.04,"v2":7.48},{"p":6,"ch":1,"k":"t","t":4.22,"v":0.04,"v2":7.5},{"p":6,"ch":1,"k":"t","t":4.37,"v":0.05,"v2":7.5},{"p":6,"ch":1,"k":"t","t":4.53,"v":0.04,"v2":7.52},{"p":6,"ch":1,"k":"t","t":4.68,"v":0.04,"v2":7.48},{"p":6,"ch":1,"k":"t","t":4.84,"v":0.05,"v2":7.5},{"p":6,"ch":1,"k":"t","t":4.99,"v":0.04,"v2":7.5},{"p":6,"ch":1,"k":"t","t":5.15,"v":0.04,"v2":7.48},{"p":6,"ch":1,"k":"t","t":5.3,"v":0.05,"v2":7.5},{"p":6,"ch":1,"k":"t","t":5.46,"v":0.04,"v2":7.5},{"p":6,"ch":1,"k":"t","t":5.61,"v":0.04,"v2":7.48},{"p":6,"ch":1,"k":"t","t":5.77,"v":0.05,"v2":7.5},{"p":6,"ch":1,"k":"t","t":5.92,"v":0.04,"v2":7.5},{"p":6,"ch":1,"k":"t","t":6.08,"v":0.04,"v2":7.52},{"p":6,"ch":1,"k":"t","t":6.23,"v":0.05,"v2":7.5},{"p":6,"ch":1,"k":"t","t":6.39,"v":0.04,"v2":7.48},{"p":6,"ch":1,"k":"t","t":6.54,"v":0.04,"v2":7.5},{"p":6,"ch":1,"k":"t","t":6.7,"v":0.05,"v2":7.5},
{"p":6,"ch":1,"g":"a","k":"t","t":6.72,"v":7.45},{"p":6,"ch":1,"g":"a","k":"t","t":6.79,"v":7.3},{"p":6,"ch":1,"g":"a","k":"t","t":7.05,"v":6.55},{"p":6,"ch":1,"g":"a","k":"t","t":7.31,"v":5.58},{"p":6,"ch":1,"g":"a","k":"t","t":7.41,"v":4.7},{"p":6,"ch":1,"g":"a","k":"t","t":7.46,"v":3.96},
{"p":6,"ch":1,"g":"b","t":7.46,"v":3.96},{"p":6,"ch":1,"g":"b","t":8.04,"v":3.84},{"p":6,"ch":1,"g":"b","t":8.45,"v":3.76},{"p":6,"ch":1,"g":"b","t":9.96,"v":3.77}
]},
"spec":{"width":320,"height":320,
"layer":[
{"data":{"name":"one"},"mark":{"type":"rule","strokeWidth":1,"strokeDash":[1.5,1.5]},"encoding":{"x":{"datum":5},"y":{"datum":0},"y2":{"datum":8.04},"color":{"value":"#222"}}},
{"data":{"name":"one"},"mark":{"type":"rule","strokeWidth":1,"strokeDash":[1.5,1.5]},"encoding":{"y":{"datum":4},"x":{"datum":-0.07},"x2":{"datum":9.96},"color":{"value":"#222"}}},
{"data":{"name":"tx"},"mark":{"type":"rule","strokeWidth":1},"encoding":{"x":{"field":"g","type":"quantitative"},"y":{"datum":3.93},"y2":{"datum":4.07},"color":{"value":"#222"}}},
{"data":{"name":"ty"},"mark":{"type":"rule","strokeWidth":1},"encoding":{"y":{"field":"g","type":"quantitative"},"x":{"datum":4.92},"x2":{"datum":5.08},"color":{"value":"#222"}}},
{"data":{"name":"tx"},"mark":{"type":"rule","strokeWidth":1},"encoding":{"x":{"field":"g","type":"quantitative"},"y":{"datum":0},"y2":{"datum":0.1},"color":{"value":"#222"}}},
{"data":{"name":"tx"},"mark":{"type":"rule","strokeWidth":1},"encoding":{"x":{"field":"g","type":"quantitative"},"y":{"datum":7.95},"y2":{"datum":8.04},"color":{"value":"#222"}}},
{"data":{"name":"ty"},"mark":{"type":"rule","strokeWidth":1},"encoding":{"y":{"field":"g","type":"quantitative"},"x":{"datum":-0.07},"x2":{"datum":0.03},"color":{"value":"#222"}}},
{"data":{"name":"ty"},"mark":{"type":"rule","strokeWidth":1},"encoding":{"y":{"field":"g","type":"quantitative"},"x":{"datum":9.86},"x2":{"datum":9.96},"color":{"value":"#222"}}},
{"encoding":{"x":{"field":"t","type":"quantitative","scale":{"domain":[-0.07,9.96],"nice":false,"zero":false},"axis":{"values":[1,2,3,4,6,7,8,9],"grid":true,"gridColor":"#222","gridWidth":1,"gridDash":[1.2,6.75]}},"y":{"field":"v","type":"quantitative","scale":{"domain":[0,8.04],"nice":false,"zero":false},"axis":{"values":[1,2,3,5,6,7],"grid":true,"gridColor":"#222","gridWidth":1,"gridDash":[1.2,5.2]}},"color":{"field":"ch","type":"nominal","legend":null,"scale":{"domain":[1,2,3,4,5,6],"range":["#1f4fa0","#5cc8d7","#a24f9f","#6abd45","#8fabd6","#b5dba0"]}}},
"layer":[
{"transform":[{"filter":"datum.t2!=null"}],"mark":"rect","encoding":{"x2":{"field":"t2"},"y2":{"field":"v2"}}},
{"transform":[{"filter":"datum.ar===1"}],"mark":"area","encoding":{"y2":{"field":"v2"},"detail":{"field":"g"}}},
{"transform":[{"filter":"datum.k==='t'&&datum.v2!=null"}],"mark":{"type":"rule","strokeWidth":1.7,"opacity":0.85},"encoding":{"y2":{"field":"v2"}}},
{"transform":[{"filter":"datum.v2!=null&&datum.t2==null&&datum.k==null&&datum.ar==null"}],"mark":{"type":"rule","strokeWidth":0.9},"encoding":{"y2":{"field":"v2"}}},
{"transform":[{"filter":"datum.g!=null&&datum.ar==null&&datum.k==='t'"}],"mark":{"type":"line","strokeWidth":0.9},"encoding":{"detail":{"field":"g"},"order":{"value":null}}},
{"transform":[{"filter":"datum.g!=null&&datum.ar==null&&datum.k==null"}],"mark":{"type":"line","strokeWidth":2.4},"encoding":{"detail":{"field":"g"},"order":{"value":null}}},
{"transform":[{"filter":"datum.r==='arrow'"}],"mark":{"type":"point","shape":"triangle-left","filled":true,"size":30,"opacity":1}},
{"transform":[{"filter":"datum.r==='flag'"}],"mark":{"type":"point","shape":"M-1,-1H0.35L1,0L0.35,1H-1Z","size":130,"fill":"white","opacity":1,"strokeWidth":1}},
{"transform":[{"filter":"datum.r==='flags'"}],"mark":{"type":"point","shape":"M-1,-1H0.35L1,0L0.35,1H-1Z","size":130,"filled":true,"opacity":1}},
{"transform":[{"filter":"datum.r==='flag'"}],"mark":{"type":"text","fontSize":10,"baseline":"middle","dx":-1},"encoding":{"text":{"field":"txt"}}},
{"transform":[{"filter":"datum.r==='flags'"}],"mark":{"type":"text","fontSize":10,"baseline":"middle","dx":-1},"encoding":{"text":{"field":"txt"},"color":{"value":"white"}}},
{"transform":[{"filter":"datum.r==='title'"}],"mark":{"type":"text","fontSize":28,"fontWeight":"bold","align":"left"},"encoding":{"text":{"field":"txt"},"color":{"value":"#231f20"}}},
{"transform":[{"filter":"datum.r==='sub'"}],"mark":{"type":"text","fontSize":20,"align":"left"},"encoding":{"text":{"field":"txt"},"color":{"value":"#231f20"}}},
{"transform":[{"filter":"datum.r==='subs'"}],"mark":{"type":"text","fontSize":16,"align":"left"},"encoding":{"text":{"field":"txt"},"color":{"value":"#231f20"}}},
{"transform":[{"filter":"datum.r==='time'"}],"mark":{"type":"text","fontSize":20,"align":"center"},"encoding":{"text":{"field":"txt"},"color":{"value":"#231f20"}}},
{"transform":[{"filter":"datum.r==='scale'"}],"mark":{"type":"text","fontSize":17.5,"align":"right"},"encoding":{"text":{"field":"txt"},"color":{"value":"#231f20"}}},
{"transform":[{"filter":"datum.r==='V'"}],"mark":{"type":"text","fontSize":18,"align":"left"},"encoding":{"text":{"field":"txt"},"color":{"value":"#231f20"}}},
{"transform":[{"filter":"datum.r==='vs'"}],"mark":{"type":"text","fontSize":14.5,"align":"left"},"encoding":{"text":{"field":"txt"},"color":{"value":"#231f20"}}}
]},
{"transform":[{"filter":"datum.r==='cursor'"}],"mark":{"type":"rule","strokeWidth":1,"opacity":0.6},"encoding":{"x":{"field":"t","type":"quantitative"},"y":{"datum":0},"y2":{"datum":8.04},"color":{"value":"#3a4a9a"}}},
{"transform":[{"filter":"datum.r==='cursord'"}],"mark":{"type":"rule","strokeWidth":1,"opacity":0.6,"strokeDash":[2,2]},"encoding":{"x":{"field":"t","type":"quantitative"},"y":{"datum":0},"y2":{"datum":8.04},"color":{"value":"#3a4a9a"}}},
{"data":{"name":"one"},"mark":{"type":"point","shape":"triangle-down","filled":true,"size":22,"opacity":1},"encoding":{"x":{"datum":5},"y":{"datum":7.98},"color":{"value":"#f58220"}}}
]}},
{"bounds":"flush","spacing":116,"hconcat":[
{"width":320,"height":320,
"data":{"values":[
{"r":"title","t":0.05,"v":9.09,"txt":"X-Cap Discharge"},{"r":"sub","t":0.05,"v":8.29,"txt":"265V"},{"r":"subs","t":1.53,"v":8.19,"txt":"AC"},{"r":"sub","t":2.21,"v":8.29,"txt":", No Load"},{"r":"time","t":5,"v":-1.06,"txt":"200ms/div."},
{"r":"V","t":-1.55,"v":4.1,"txt":"V"},{"r":"vs","t":-1.19,"v":3.97,"txt":"IN"},{"r":"scale","t":-0.74,"v":3.59,"txt":"100V/div."},
{"r":"flags","ch":1,"t":-0.31,"v":3.99,"txt":"1"},{"r":"arrow","ch":1,"t":9.84,"v":5.25},
{"ch":5,"t":0,"t2":6.9,"v":2.25,"v2":6.45},
{"r":"cursor","t":7.76},{"r":"cursord","t":6.98},
{"ch":1,"k":"t","t":0.04,"v":0.24,"v2":7.73},{"ch":1,"k":"t","t":0.2,"v":0.25,"v2":7.7},{"ch":1,"k":"t","t":0.36,"v":0.24,"v2":7.73},{"ch":1,"k":"t","t":0.51,"v":0.24,"v2":7.7},{"ch":1,"k":"t","t":0.67,"v":0.25,"v2":7.72},{"ch":1,"k":"t","t":0.83,"v":0.24,"v2":7.7},{"ch":1,"k":"t","t":0.98,"v":0.24,"v2":7.75},{"ch":1,"k":"t","t":1.14,"v":0.25,"v2":7.73},{"ch":1,"k":"t","t":1.3,"v":0.24,"v2":7.7},{"ch":1,"k":"t","t":1.45,"v":0.24,"v2":7.72},{"ch":1,"k":"t","t":1.61,"v":0.25,"v2":7.7},{"ch":1,"k":"t","t":1.77,"v":0.24,"v2":7.73},{"ch":1,"k":"t","t":1.92,"v":0.24,"v2":7.7},{"ch":1,"k":"t","t":2.08,"v":0.25,"v2":7.72},{"ch":1,"k":"t","t":2.24,"v":0.24,"v2":7.7},{"ch":1,"k":"t","t":2.39,"v":0.24,"v2":7.73},{"ch":1,"k":"t","t":2.55,"v":0.25,"v2":7.7},{"ch":1,"k":"t","t":2.71,"v":0.24,"v2":7.72},{"ch":1,"k":"t","t":2.86,"v":0.24,"v2":7.7},{"ch":1,"k":"t","t":3.02,"v":0.25,"v2":7.72},{"ch":1,"k":"t","t":3.18,"v":0.24,"v2":7.7},{"ch":1,"k":"t","t":3.33,"v":0.24,"v2":7.73},{"ch":1,"k":"t","t":3.49,"v":0.25,"v2":7.7},{"ch":1,"k":"t","t":3.65,"v":0.24,"v2":7.72},{"ch":1,"k":"t","t":3.8,"v":0.24,"v2":7.75},{"ch":1,"k":"t","t":3.96,"v":0.25,"v2":7.7},{"ch":1,"k":"t","t":4.12,"v":0.24,"v2":7.72},{"ch":1,"k":"t","t":4.27,"v":0.24,"v2":7.7},{"ch":1,"k":"t","t":4.43,"v":0.25,"v2":7.72},{"ch":1,"k":"t","t":4.59,"v":0.24,"v2":7.7},{"ch":1,"k":"t","t":4.74,"v":0.24,"v2":7.73},{"ch":1,"k":"t","t":4.9,"v":0.25,"v2":7.7},{"ch":1,"k":"t","t":5.06,"v":0.24,"v2":7.72},{"ch":1,"k":"t","t":5.21,"v":0.24,"v2":7.7},{"ch":1,"k":"t","t":5.37,"v":0.25,"v2":7.73},{"ch":1,"k":"t","t":5.53,"v":0.24,"v2":7.7},{"ch":1,"k":"t","t":5.68,"v":0.24,"v2":7.72},{"ch":1,"k":"t","t":5.84,"v":0.25,"v2":7.7},{"ch":1,"k":"t","t":6.0,"v":0.24,"v2":7.73},{"ch":1,"k":"t","t":6.15,"v":0.24,"v2":7.7},{"ch":1,"k":"t","t":6.31,"v":0.25,"v2":7.72},{"ch":1,"k":"t","t":6.47,"v":0.24,"v2":7.7},{"ch":1,"k":"t","t":6.62,"v":0.24,"v2":7.73},{"ch":1,"k":"t","t":6.78,"v":0.25,"v2":7.7},{"ch":1,"k":"t","t":6.9,"v":0.24,"v2":7.72},
{"ch":1,"g":"a","t":6.93,"v":7.7},{"ch":1,"g":"a","t":7.5,"v":7.42},
{"ch":1,"g":"c","k":"t","t":7.5,"v":7.42},{"ch":1,"g":"c","k":"t","t":7.58,"v":6.45},{"ch":1,"g":"c","k":"t","t":7.66,"v":4.44},{"ch":1,"g":"c","k":"t","t":7.72,"v":4.14},
{"ch":1,"g":"b","t":7.72,"v":4.14},{"ch":1,"g":"b","t":8.18,"v":4.08},{"ch":1,"g":"b","t":9.02,"v":4.0},{"ch":1,"g":"b","t":9.94,"v":3.97}
]},
"layer":[
{"encoding":{"x":{"field":"t","type":"quantitative","scale":{"domain":[-0.07,9.96],"nice":false,"zero":false},"axis":{"values":[1,2,3,4,6,7,8,9],"grid":true,"gridColor":"#222","gridWidth":1,"gridDash":[1.2,6.75]}},"y":{"field":"v","type":"quantitative","scale":{"domain":[0,8.04],"nice":false,"zero":false},"axis":{"values":[1,2,3,5,6,7],"grid":true,"gridColor":"#222","gridWidth":1,"gridDash":[1.2,5.2]}},"color":{"field":"ch","type":"nominal","legend":null,"scale":{"domain":[1,5],"range":["#1f4fa0","#8fabd6"]}}},
"layer":[
{"transform":[{"filter":"datum.t2!=null"}],"mark":"rect","encoding":{"x2":{"field":"t2"},"y2":{"field":"v2"}}},
{"transform":[{"filter":"datum.k==='t'&&datum.v2!=null"}],"mark":{"type":"rule","strokeWidth":1.7,"opacity":0.85},"encoding":{"y2":{"field":"v2"}}}
]},
{"data":{"name":"one"},"mark":{"type":"rule","strokeWidth":1,"strokeDash":[1.5,1.5]},"encoding":{"x":{"datum":5},"y":{"datum":0},"y2":{"datum":8.04},"color":{"value":"#222"}}},
{"data":{"name":"one"},"mark":{"type":"rule","strokeWidth":1,"strokeDash":[1.5,1.5]},"encoding":{"y":{"datum":4},"x":{"datum":-0.07},"x2":{"datum":9.96},"color":{"value":"#222"}}},
{"data":{"name":"tx"},"mark":{"type":"rule","strokeWidth":1},"encoding":{"x":{"field":"g","type":"quantitative"},"y":{"datum":3.93},"y2":{"datum":4.07},"color":{"value":"#222"}}},
{"data":{"name":"ty"},"mark":{"type":"rule","strokeWidth":1},"encoding":{"y":{"field":"g","type":"quantitative"},"x":{"datum":4.92},"x2":{"datum":5.08},"color":{"value":"#222"}}},
{"data":{"name":"tx"},"mark":{"type":"rule","strokeWidth":1},"encoding":{"x":{"field":"g","type":"quantitative"},"y":{"datum":0},"y2":{"datum":0.1},"color":{"value":"#222"}}},
{"data":{"name":"tx"},"mark":{"type":"rule","strokeWidth":1},"encoding":{"x":{"field":"g","type":"quantitative"},"y":{"datum":7.95},"y2":{"datum":8.04},"color":{"value":"#222"}}},
{"data":{"name":"ty"},"mark":{"type":"rule","strokeWidth":1},"encoding":{"y":{"field":"g","type":"quantitative"},"x":{"datum":-0.07},"x2":{"datum":0.03},"color":{"value":"#222"}}},
{"data":{"name":"ty"},"mark":{"type":"rule","strokeWidth":1},"encoding":{"y":{"field":"g","type":"quantitative"},"x":{"datum":9.86},"x2":{"datum":9.96},"color":{"value":"#222"}}},
{"transform":[{"filter":"datum.r==='cursor'"}],"mark":{"type":"rule","strokeWidth":1},"encoding":{"x":{"field":"t","type":"quantitative"},"y":{"datum":0},"y2":{"datum":8.04},"color":{"value":"#2b3a8c"}}},
{"transform":[{"filter":"datum.r==='cursord'"}],"mark":{"type":"rule","strokeWidth":1,"strokeDash":[2,2]},"encoding":{"x":{"field":"t","type":"quantitative"},"y":{"datum":0},"y2":{"datum":8.04},"color":{"value":"#2b3a8c"}}},
{"data":{"name":"one"},"mark":{"type":"point","shape":"triangle-down","filled":true,"size":22,"opacity":1},"encoding":{"x":{"datum":5},"y":{"datum":7.98},"color":{"value":"#f58220"}}},
{"encoding":{"x":{"field":"t","type":"quantitative"},"y":{"field":"v","type":"quantitative"}},
"layer":[
{"transform":[{"filter":"datum.g!=null&&datum.k==='t'"}],"mark":{"type":"line","strokeWidth":0.9},"encoding":{"detail":{"field":"g"},"order":{"value":null},"color":{"value":"#1f4fa0"}}},
{"transform":[{"filter":"datum.g!=null&&datum.k==null"}],"mark":{"type":"line","strokeWidth":2.4},"encoding":{"detail":{"field":"g"},"order":{"value":null},"color":{"value":"#1f4fa0"}}},
{"transform":[{"filter":"datum.r==='arrow'"}],"mark":{"type":"point","shape":"triangle-left","filled":true,"size":30,"opacity":1},"encoding":{"color":{"value":"#2b3a8c"}}},
{"transform":[{"filter":"datum.r==='flags'"}],"mark":{"type":"point","shape":"M-1,-1H0.35L1,0L0.35,1H-1Z","size":130,"filled":true,"opacity":1},"encoding":{"color":{"value":"#2b3a8c"}}},
{"transform":[{"filter":"datum.r==='flags'"}],"mark":{"type":"text","fontSize":10,"baseline":"middle","dx":-1},"encoding":{"text":{"field":"txt"},"color":{"value":"white"}}},
{"transform":[{"filter":"datum.r==='title'"}],"mark":{"type":"text","fontSize":28,"fontWeight":"bold","align":"left"},"encoding":{"text":{"field":"txt"},"color":{"value":"#231f20"}}},
{"transform":[{"filter":"datum.r==='sub'"}],"mark":{"type":"text","fontSize":20,"align":"left"},"encoding":{"text":{"field":"txt"},"color":{"value":"#231f20"}}},
{"transform":[{"filter":"datum.r==='subs'"}],"mark":{"type":"text","fontSize":16,"align":"left"},"encoding":{"text":{"field":"txt"},"color":{"value":"#231f20"}}},
{"transform":[{"filter":"datum.r==='time'"}],"mark":{"type":"text","fontSize":20,"align":"center"},"encoding":{"text":{"field":"txt"},"color":{"value":"#231f20"}}},
{"transform":[{"filter":"datum.r==='scale'"}],"mark":{"type":"text","fontSize":17.5,"align":"right"},"encoding":{"text":{"field":"txt"},"color":{"value":"#231f20"}}},
{"transform":[{"filter":"datum.r==='V'"}],"mark":{"type":"text","fontSize":18,"align":"left"},"encoding":{"text":{"field":"txt"},"color":{"value":"#231f20"}}},
{"transform":[{"filter":"datum.r==='vs'"}],"mark":{"type":"text","fontSize":14.5,"align":"left"},"encoding":{"text":{"field":"txt"},"color":{"value":"#231f20"}}}
]}
]},
{"bounds":"flush","columns":2,"spacing":102,
"facet":{"field":"p","type":"nominal","header":{"labels":false,"title":null,"labelFontSize":0,"labelColor":"transparent","labelPadding":0}},
"data":{"values":[
{"p":8,"r":"title","mhz":0.1347,"db":137.7,"txt":"Conducted EMI"},{"p":8,"r":"sub","mhz":0.1347,"db":126,"txt":"230V"},{"p":8,"r":"subs","mhz":0.292,"db":124,"txt":"AC"},{"p":8,"r":"sub","mhz":0.411,"db":126,"txt":", L Wire"},
{"p":9,"r":"title","mhz":0.1347,"db":137.7,"txt":"Conducted EMI"},{"p":9,"r":"sub","mhz":0.1347,"db":126,"txt":"230V"},{"p":9,"r":"subs","mhz":0.295,"db":124,"txt":"AC"},{"p":9,"r":"sub","mhz":0.416,"db":126,"txt":", N Wire"},
{"p":8,"r":"lbl","mhz":0.1424,"db":115.2,"txt":"dBµV"},{"p":8,"r":"lbl","mhz":0.1424,"db":99.7,"txt":"1 PK"},{"p":8,"r":"lbl","mhz":0.1424,"db":95.1,"txt":"CLRWR"},{"p":8,"r":"lbl","mhz":0.1424,"db":84.1,"txt":"2 AV"},{"p":8,"r":"lbl","mhz":0.1424,"db":79.3,"txt":"CLRWR"},
{"p":9,"r":"lbl","mhz":0.1424,"db":115.2,"txt":"dBµV"},{"p":9,"r":"lbl","mhz":0.1424,"db":99.7,"txt":"1 PK"},{"p":9,"r":"lbl","mhz":0.1424,"db":95.1,"txt":"CLRWR"},{"p":9,"r":"lbl","mhz":0.1424,"db":84.1,"txt":"2 AV"},{"p":9,"r":"lbl","mhz":0.1424,"db":79.3,"txt":"CLRWR"},
{"p":8,"r":"rl","mhz":32.4,"db":103.7,"txt":"SGL"},{"p":8,"r":"rl","mhz":32.4,"db":83.8,"txt":"TDS"},{"p":8,"r":"rl","mhz":32.4,"db":50.4,"txt":"6DB"},
{"p":9,"r":"rl","mhz":32.4,"db":103.7,"txt":"SGL"},{"p":9,"r":"rl","mhz":32.4,"db":83.8,"txt":"TDS"},{"p":9,"r":"rl","mhz":32.4,"db":50.4,"txt":"6DB"},
{"p":8,"r":"bot","mhz":0.1366,"db":-8,"txt":"150kHz"},{"p":8,"r":"bot","mhz":13.04,"db":-8,"txt":"30MHz"},{"p":9,"r":"bot","mhz":0.1444,"db":-8,"txt":"150kHz"},{"p":9,"r":"bot","mhz":14.5,"db":-8,"txt":"30MHz"},
{"p":8,"r":"fr","mhz":0.8,"db":115.9,"txt":"1MHz"},{"p":8,"r":"fr","mhz":7.6,"db":115.9,"txt":"10MHz"},{"p":9,"r":"fr","mhz":0.8,"db":115.9,"txt":"1MHz"},{"p":9,"r":"fr","mhz":7.6,"db":115.9,"txt":"10MHz"},
{"p":8,"r":"lim","mhz":1.01,"db":56.7,"txt":"EN55022Q"},{"p":8,"r":"lim","mhz":1.02,"db":46.9,"txt":"EN55022A"},{"p":9,"r":"lim","mhz":1.01,"db":56.7,"txt":"EN55022Q"},{"p":9,"r":"lim","mhz":1.02,"db":46.9,"txt":"EN55022A"},
{"p":8,"s":"QP limit","mhz":0.15,"db":66},{"p":8,"s":"QP limit","mhz":0.5,"db":56},{"p":8,"s":"QP limit","mhz":5,"db":56},{"p":8,"s":"QP limit","mhz":5,"db":60},{"p":8,"s":"QP limit","mhz":30,"db":60},
{"p":8,"s":"AV limit","mhz":0.15,"db":56},{"p":8,"s":"AV limit","mhz":0.5,"db":46},{"p":8,"s":"AV limit","mhz":5,"db":46},{"p":8,"s":"AV limit","mhz":5,"db":50},{"p":8,"s":"AV limit","mhz":30,"db":50},
{"p":9,"s":"QP limit","mhz":0.15,"db":66},{"p":9,"s":"QP limit","mhz":0.5,"db":56},{"p":9,"s":"QP limit","mhz":5,"db":56},{"p":9,"s":"QP limit","mhz":5,"db":60},{"p":9,"s":"QP limit","mhz":30,"db":60},
{"p":9,"s":"AV limit","mhz":0.15,"db":56},{"p":9,"s":"AV limit","mhz":0.5,"db":46},{"p":9,"s":"AV limit","mhz":5,"db":46},{"p":9,"s":"AV limit","mhz":5,"db":50},{"p":9,"s":"AV limit","mhz":30,"db":50},
{"p":8,"s":"Peak","mhz":0.1547,"db":47.9},{"p":8,"s":"Peak","mhz":0.1634,"db":43.5},{"p":8,"s":"Peak","mhz":0.168,"db":46},{"p":8,"s":"Peak","mhz":0.1756,"db":42.8},{"p":8,"s":"Peak","mhz":0.1825,"db":53.5},{"p":8,"s":"Peak","mhz":0.2005,"db":50.4},{"p":8,"s":"Peak","mhz":0.2096,"db":40.3},{"p":8,"s":"Peak","mhz":0.2215,"db":44},{"p":8,"s":"Peak","mhz":0.2314,"db":39.7},{"p":8,"s":"Peak","mhz":0.2418,"db":46},{"p":8,"s":"Peak","mhz":0.2543,"db":46},{"p":8,"s":"Peak","mhz":0.2643,"db":45},{"p":8,"s":"Peak","mhz":0.2793,"db":40.3},{"p":8,"s":"Peak","mhz":0.292,"db":39.9},{"p":8,"s":"Peak","mhz":0.3172,"db":41.6},{"p":8,"s":"Peak","mhz":0.3445,"db":39.7},{"p":8,"s":"Peak","mhz":0.365,"db":38.8},{"p":8,"s":"Peak","mhz":0.3847,"db":39},{"p":8,"s":"Peak","mhz":0.4,"db":38.2},{"p":8,"s":"Peak","mhz":0.4179,"db":38.4},{"p":8,"s":"Peak","mhz":0.435,"db":39.8},{"p":8,"s":"Peak","mhz":0.4539,"db":40.9},{"p":8,"s":"Peak","mhz":0.48,"db":38.3},{"p":8,"s":"Peak","mhz":0.5044,"db":38.4},{"p":8,"s":"Peak","mhz":0.535,"db":39.6},{"p":8,"s":"Peak","mhz":0.5662,"db":39.5},{"p":8,"s":"Peak","mhz":0.6,"db":38},{"p":8,"s":"Peak","mhz":0.6324,"db":37.8},{"p":8,"s":"Peak","mhz":0.67,"db":39.9},{"p":8,"s":"Peak","mhz":0.7063,"db":40},{"p":8,"s":"Peak","mhz":0.75,"db":38},{"p":8,"s":"Peak","mhz":0.7887,"db":39.4},{"p":8,"s":"Peak","mhz":0.83,"db":38.6},{"p":8,"s":"Peak","mhz":0.8807,"db":37.8},{"p":8,"s":"Peak","mhz":0.94,"db":39.2},{"p":8,"s":"Peak","mhz":1,"db":38.6},{"p":8,"s":"Peak","mhz":1.08,"db":37.9},{"p":8,"s":"Peak","mhz":1.161,"db":38.4},{"p":8,"s":"Peak","mhz":1.26,"db":37.8},{"p":8,"s":"Peak","mhz":1.37,"db":41},{"p":8,"s":"Peak","mhz":1.45,"db":37.9},{"p":8,"s":"Peak","mhz":1.53,"db":39.4},{"p":8,"s":"Peak","mhz":1.708,"db":37.5},{"p":8,"s":"Peak","mhz":1.908,"db":36.5},{"p":8,"s":"Peak","mhz":2.131,"db":33.4},{"p":8,"s":"Peak","mhz":2.38,"db":32.1},{"p":8,"s":"Peak","mhz":2.657,"db":33.4},{"p":8,"s":"Peak","mhz":3,"db":40.9},{"p":8,"s":"Peak","mhz":3.41,"db":32.7},{"p":8,"s":"Peak","mhz":3.977,"db":32.1},{"p":8,"s":"Peak","mhz":4.49,"db":31.5},{"p":8,"s":"Peak","mhz":4.987,"db":33.4},{"p":8,"s":"Peak","mhz":6.016,"db":39},{"p":8,"s":"Peak","mhz":6.794,"db":39},{"p":8,"s":"Peak","mhz":8.02,"db":35.3},{"p":8,"s":"Peak","mhz":10,"db":35.3},{"p":8,"s":"Peak","mhz":12.82,"db":35.9},{"p":8,"s":"Peak","mhz":15.55,"db":33.4},{"p":8,"s":"Peak","mhz":18.36,"db":29.6},{"p":8,"s":"Peak","mhz":22.64,"db":25.4},{"p":8,"s":"Peak","mhz":25.57,"db":38.4},{"p":8,"s":"Peak","mhz":29.35,"db":34},
{"p":8,"s":"Average","mhz":0.1547,"db":32.5},{"p":8,"s":"Average","mhz":0.1756,"db":32.1},{"p":8,"s":"Average","mhz":0.1897,"db":38},{"p":8,"s":"Average","mhz":0.2096,"db":32.1},{"p":8,"s":"Average","mhz":0.2314,"db":30.9},{"p":8,"s":"Average","mhz":0.2543,"db":33.4},{"p":8,"s":"Average","mhz":0.292,"db":30.9},{"p":8,"s":"Average","mhz":0.3847,"db":30},{"p":8,"s":"Average","mhz":0.5044,"db":29.2},{"p":8,"s":"Average","mhz":0.7063,"db":29.2},{"p":8,"s":"Average","mhz":1,"db":29},{"p":8,"s":"Average","mhz":1.53,"db":28.3},{"p":8,"s":"Average","mhz":1.908,"db":26.4},{"p":8,"s":"Average","mhz":2.38,"db":22.7},{"p":8,"s":"Average","mhz":2.657,"db":21.4},{"p":8,"s":"Average","mhz":3,"db":24.3},{"p":8,"s":"Average","mhz":3.41,"db":21.7},{"p":8,"s":"Average","mhz":3.977,"db":20.7},{"p":8,"s":"Average","mhz":4.987,"db":23.3},{"p":8,"s":"Average","mhz":6.43,"db":29.2},{"p":8,"s":"Average","mhz":8.02,"db":25.8},{"p":8,"s":"Average","mhz":10,"db":27.1},{"p":8,"s":"Average","mhz":12.82,"db":27.3},{"p":8,"s":"Average","mhz":15.55,"db":23.3},{"p":8,"s":"Average","mhz":18.36,"db":18.9},{"p":8,"s":"Average","mhz":20.5,"db":18.3},{"p":8,"s":"Average","mhz":22.64,"db":15.5},{"p":8,"s":"Average","mhz":25.57,"db":28.3},{"p":8,"s":"Average","mhz":29.35,"db":23.3},
{"p":9,"s":"Peak","mhz":0.1556,"db":47.2},{"p":9,"s":"Peak","mhz":0.1653,"db":48.5},{"p":9,"s":"Peak","mhz":0.1737,"db":42.2},{"p":9,"s":"Peak","mhz":0.1815,"db":53.5},{"p":9,"s":"Peak","mhz":0.2027,"db":50.4},{"p":9,"s":"Peak","mhz":0.2143,"db":42.2},{"p":9,"s":"Peak","mhz":0.2289,"db":44},{"p":9,"s":"Peak","mhz":0.2392,"db":41.6},{"p":9,"s":"Peak","mhz":0.25,"db":48.5},{"p":9,"s":"Peak","mhz":0.2672,"db":46},{"p":9,"s":"Peak","mhz":0.2824,"db":38.4},{"p":9,"s":"Peak","mhz":0.3,"db":41.5},{"p":9,"s":"Peak","mhz":0.3153,"db":42.8},{"p":9,"s":"Peak","mhz":0.34,"db":39.5},{"p":9,"s":"Peak","mhz":0.3621,"db":38.4},{"p":9,"s":"Peak","mhz":0.39,"db":40.2},{"p":9,"s":"Peak","mhz":0.4272,"db":41.6},{"p":9,"s":"Peak","mhz":0.46,"db":39},{"p":9,"s":"Peak","mhz":0.4905,"db":40.3},{"p":9,"s":"Peak","mhz":0.54,"db":38.2},{"p":9,"s":"Peak","mhz":0.6116,"db":39},{"p":9,"s":"Peak","mhz":0.68,"db":40.8},{"p":9,"s":"Peak","mhz":0.7631,"db":40.3},{"p":9,"s":"Peak","mhz":0.85,"db":38.8},{"p":9,"s":"Peak","mhz":0.9515,"db":40.3},{"p":9,"s":"Peak","mhz":1.06,"db":38.3},{"p":9,"s":"Peak","mhz":1.187,"db":37.9},{"p":9,"s":"Peak","mhz":1.33,"db":38.2},{"p":9,"s":"Peak","mhz":1.48,"db":38.4},{"p":9,"s":"Peak","mhz":1.846,"db":35.9},{"p":9,"s":"Peak","mhz":2.302,"db":33.4},{"p":9,"s":"Peak","mhz":2.571,"db":33.4},{"p":9,"s":"Peak","mhz":2.951,"db":42.2},{"p":9,"s":"Peak","mhz":3.388,"db":32.7},{"p":9,"s":"Peak","mhz":4.226,"db":30.2},{"p":9,"s":"Peak","mhz":4.987,"db":33.4},{"p":9,"s":"Peak","mhz":5.884,"db":36.5},{"p":9,"s":"Peak","mhz":6.945,"db":36.5},{"p":9,"s":"Peak","mhz":7.977,"db":33.4},{"p":9,"s":"Peak","mhz":9.67,"db":34},{"p":9,"s":"Peak","mhz":12.4,"db":35.9},{"p":9,"s":"Peak","mhz":15.9,"db":34},{"p":9,"s":"Peak","mhz":20.96,"db":27.5},{"p":9,"s":"Peak","mhz":25.85,"db":38},{"p":9,"s":"Peak","mhz":29.5,"db":33.4},
{"p":9,"s":"Average","mhz":0.1556,"db":32.5},{"p":9,"s":"Average","mhz":0.1737,"db":32.1},{"p":9,"s":"Average","mhz":0.1897,"db":38},{"p":9,"s":"Average","mhz":0.2143,"db":32.1},{"p":9,"s":"Average","mhz":0.2289,"db":31.7},{"p":9,"s":"Average","mhz":0.2527,"db":34.3},{"p":9,"s":"Average","mhz":0.2989,"db":30.9},{"p":9,"s":"Average","mhz":0.3933,"db":30.2},{"p":9,"s":"Average","mhz":0.5787,"db":29.2},{"p":9,"s":"Average","mhz":0.9515,"db":29.2},{"p":9,"s":"Average","mhz":1.48,"db":28},{"p":9,"s":"Average","mhz":2.06,"db":24.6},{"p":9,"s":"Average","mhz":2.716,"db":21.4},{"p":9,"s":"Average","mhz":2.951,"db":24.8},{"p":9,"s":"Average","mhz":3.58,"db":20.2},{"p":9,"s":"Average","mhz":4.34,"db":19.4},{"p":9,"s":"Average","mhz":5.27,"db":23.3},{"p":9,"s":"Average","mhz":6.5,"db":27.1},{"p":9,"s":"Average","mhz":7.977,"db":23.9},{"p":9,"s":"Average","mhz":12.4,"db":26.7},{"p":9,"s":"Average","mhz":15.9,"db":23.3},{"p":9,"s":"Average","mhz":20.96,"db":17},{"p":9,"s":"Average","mhz":25.85,"db":28.3},{"p":9,"s":"Average","mhz":29.5,"db":21.2}
]},
"spec":{"width":320,"height":320,
"layer":[
{"data":{"name":"fgrid"},"mark":{"type":"rule","strokeWidth":1.5},"encoding":{"x":{"field":"f","type":"quantitative","scale":{"type":"log","domain":[0.15,30],"nice":false}},"y":{"datum":-0.6},"y2":{"datum":120.7},"color":{"condition":{"test":"datum.f==0.5||datum.f==0.8||datum.f==0.9||datum.f==5||datum.f==8||datum.f==9||datum.f==10||datum.f==20","value":"#808080"},"value":"#1a1a1a"}}},
{"data":{"name":"dbl"},"mark":{"type":"text","fontSize":7.5,"align":"left","baseline":"middle","color":"#444"},"encoding":{"x":{"datum":0.154,"scale":{"type":"log","domain":[0.15,30],"nice":false}},"y":{"field":"db","type":"quantitative"},"text":{"field":"lab"}}},
{"encoding":{"x":{"field":"mhz","type":"quantitative","scale":{"type":"log","domain":[0.15,30],"nice":false}},"y":{"field":"db","type":"quantitative","scale":{"domain":[-0.6,120.7],"nice":false,"zero":false},"axis":{"values":[10,20,30,40,50,60,70,80,90,100,110],"grid":true,"gridWidth":1.5,"gridColor":{"condition":{"test":"datum.value==110||datum.value==100||datum.value==70||datum.value==60||datum.value==30","value":"#808080"},"value":"#1a1a1a"}}}},
"layer":[
{"transform":[{"filter":"datum.s==='QP limit'||datum.s==='AV limit'"}],"mark":{"type":"line","strokeWidth":1,"color":"#ed2024"},"encoding":{"detail":{"field":"s"},"order":{"value":null}}},
{"transform":[{"filter":"datum.s==='Peak'"}],"mark":{"type":"line","strokeWidth":1.2,"color":"#2a5caa"},"encoding":{"order":{"value":null}}},
{"transform":[{"filter":"datum.s==='Average'"}],"mark":{"type":"line","strokeWidth":1.1,"color":"#111"},"encoding":{"order":{"value":null}}},
{"transform":[{"filter":"datum.r==='title'"}],"mark":{"type":"text","fontSize":28,"fontWeight":"bold","align":"left"},"encoding":{"text":{"field":"txt"}}},
{"transform":[{"filter":"datum.r==='sub'"}],"mark":{"type":"text","fontSize":20,"align":"left"},"encoding":{"text":{"field":"txt"}}},
{"transform":[{"filter":"datum.r==='subs'"}],"mark":{"type":"text","fontSize":16,"align":"left"},"encoding":{"text":{"field":"txt"}}},
{"transform":[{"filter":"datum.r==='lbl'"}],"mark":{"type":"text","fontSize":12.5,"align":"right"},"encoding":{"text":{"field":"txt"}}},
{"transform":[{"filter":"datum.r==='rl'"}],"mark":{"type":"text","fontSize":12.5,"align":"left"},"encoding":{"text":{"field":"txt"}}},
{"transform":[{"filter":"datum.r==='bot'"}],"mark":{"type":"text","fontSize":15,"align":"left"},"encoding":{"text":{"field":"txt"}}},
{"transform":[{"filter":"datum.r==='fr'"}],"mark":{"type":"text","fontSize":7.5,"align":"left","color":"#444"},"encoding":{"text":{"field":"txt"}}},
{"transform":[{"filter":"datum.r==='lim'"}],"mark":{"type":"text","fontSize":7.8,"align":"left","color":"#ed2024"},"encoding":{"text":{"field":"txt"}}}
]}
]}}
]}
]}
